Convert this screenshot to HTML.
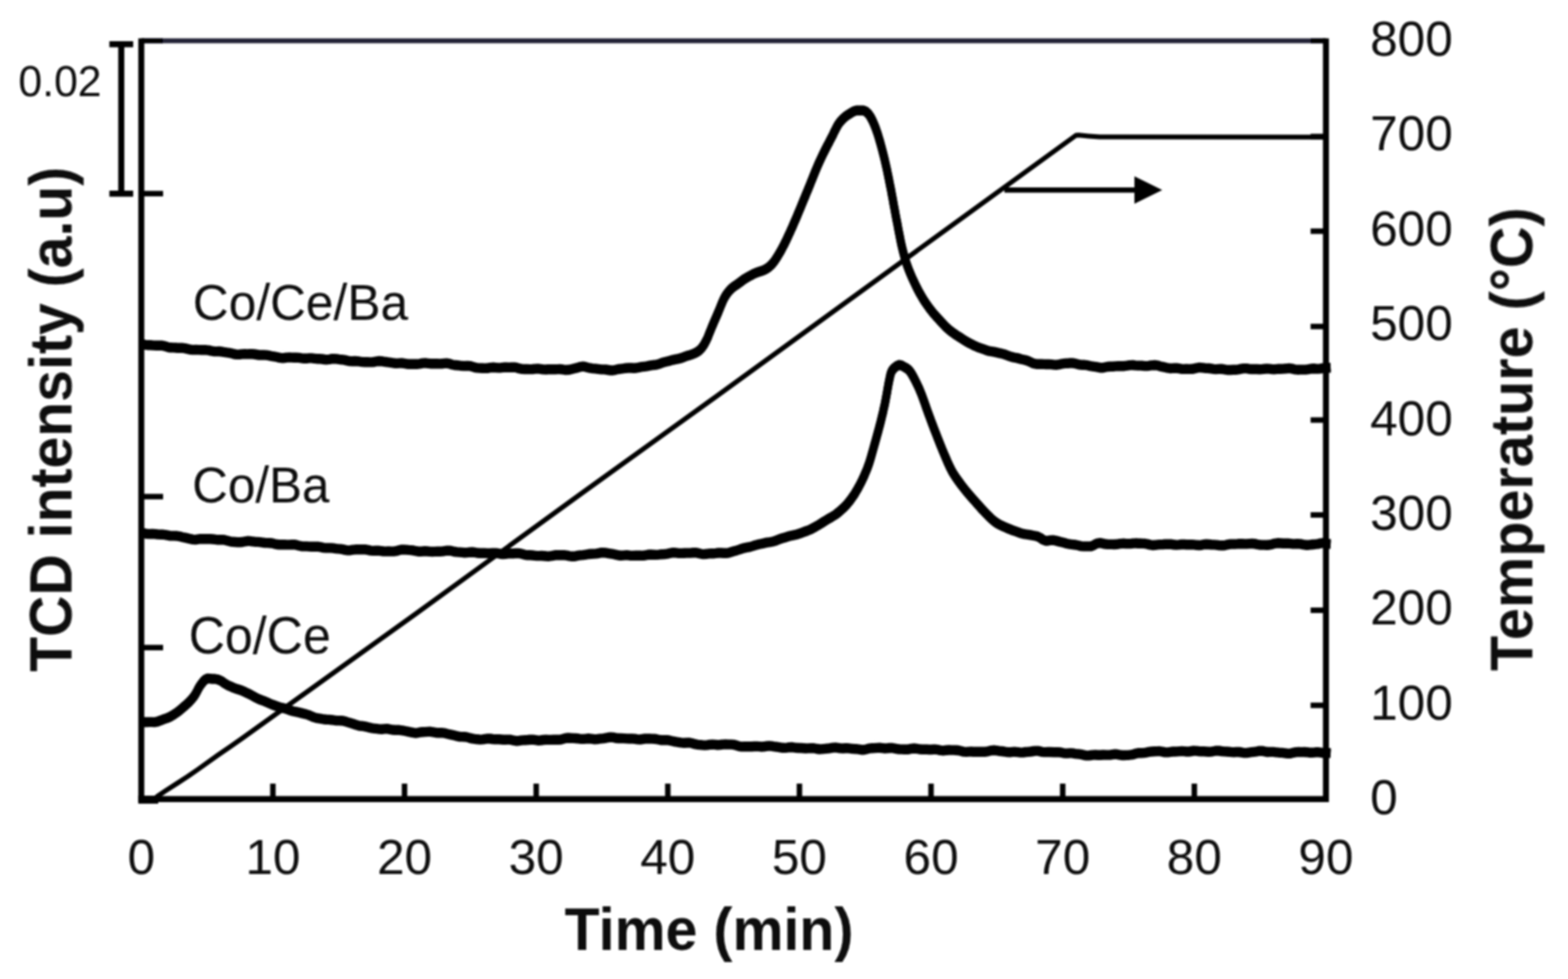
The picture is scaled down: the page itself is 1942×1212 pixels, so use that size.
<!DOCTYPE html>
<html lang="en"><head><meta charset="utf-8"><title>TPR profiles</title>
<style>
html,body{margin:0;padding:0;background:#fff;}
body{width:1942px;height:1212px;overflow:hidden;}
svg{display:block;}
text{font-family:"Liberation Sans",sans-serif;fill:#0a0a0a;}
.b{font-weight:bold;}
</style></head><body>
<svg width="1942" height="1212" viewBox="0 0 1942 1212">
<defs><filter id="bl" x="-5%" y="-5%" width="110%" height="110%"><feGaussianBlur stdDeviation="0.9"/></filter></defs>
<rect width="1942" height="1212" fill="#fff"/>
<g filter="url(#bl)">

<g fill="none" stroke="#000" stroke-linejoin="round" stroke-linecap="butt">
<path d="M191.5,989.0 L195.4,985.4 L205.0,979.0 L220.0,969.4 L232.5,961.3 L245.0,952.6 L270.0,934.8 L285.0,924.5 L300.0,914.0 L515.5,759.5 L720.0,611.0 L875.0,499.5 L1332.5,167.6 L1336.0,167.3 L1348.0,168.5 L1362.0,169.6 L1643.0,169.7" stroke-width="6"/>
<path d="M174.5,425.4 176.5,426.0 179.3,426.8 182.7,427.2 186.3,427.3 190.1,427.6 193.8,427.8 197.1,427.6 200.0,427.7 203.4,428.3 205.8,429.1 208.1,429.8 210.9,430.3 215.0,430.4 217.4,430.5 219.9,430.7 222.7,430.8 225.6,430.8 228.7,431.1 231.9,431.9 235.3,432.8 238.8,433.1 242.5,433.0 246.2,433.1 250.0,433.3 252.7,433.3 255.5,433.3 258.4,433.6 261.4,434.4 264.5,435.0 267.7,435.1 270.8,435.0 274.1,435.3 277.3,435.9 280.6,436.4 283.9,436.8 287.1,437.5 290.4,438.5 293.6,438.9 296.8,438.7 300.0,438.4 303.1,438.3 306.1,438.4 309.1,438.3 312.0,438.2 315.0,438.5 317.9,439.0 320.8,439.5 323.8,439.5 326.7,439.4 329.8,439.6 332.9,440.2 336.1,440.8 339.4,441.3 342.8,442.0 346.3,442.9 350.0,443.3 352.7,443.0 355.4,442.6 358.2,442.5 361.1,442.6 364.1,442.7 367.1,442.7 370.2,442.9 373.3,443.4 376.4,443.8 379.6,443.8 382.8,443.4 386.0,443.4 389.2,443.8 392.4,444.2 395.6,444.3 398.8,444.5 401.9,445.0 405.1,445.2 408.2,444.8 411.2,444.2 414.2,444.1 417.1,444.4 420.0,444.9 423.2,445.2 426.5,445.6 429.7,446.4 433.0,447.1 436.2,447.2 439.4,447.0 442.5,447.2 445.7,447.7 448.8,448.1 451.9,448.2 454.9,448.2 457.9,448.4 460.9,448.4 463.8,448.0 466.6,447.3 469.4,447.0 472.2,447.2 474.9,447.7 477.5,448.0 480.0,448.3 483.8,448.8 487.4,449.5 490.8,449.9 494.1,449.6 497.3,449.5 500.4,449.9 503.4,450.5 506.3,450.7 509.1,450.7 511.9,450.6 514.6,450.7 517.3,450.7 520.0,450.3 523.4,449.6 526.7,449.4 529.9,449.8 533.0,450.2 535.9,450.2 538.8,450.2 541.7,450.3 544.5,450.4 547.2,450.3 550.0,449.9 553.1,449.7 555.7,450.1 558.0,450.8 560.3,451.5 562.9,452.0 566.1,452.3 570.0,452.7 575.0,453.1 577.2,453.0 579.7,452.9 582.2,453.1 585.0,453.9 587.8,454.8 590.8,455.4 593.9,455.6 597.1,455.7 600.3,455.9 603.6,455.8 607.0,455.2 610.4,454.8 613.8,455.1 617.2,455.4 620.6,455.2 624.0,454.8 627.3,454.8 630.6,454.9 633.8,454.7 637.0,454.7 640.0,455.2 643.2,456.2 646.4,456.9 649.6,457.0 652.9,457.0 656.2,457.1 659.6,457.0 662.9,456.6 666.2,456.4 669.5,456.8 672.7,457.4 675.9,457.5 679.0,457.2 682.0,457.1 685.0,457.2 687.8,457.3 690.5,457.1 693.1,457.0 695.6,457.2 697.9,457.6 700.0,458.0 705.1,457.7 709.0,456.7 712.0,456.0 714.5,455.4 716.7,454.8 719.1,454.1 722.0,453.7 725.1,454.2 728.0,455.0 730.9,455.7 733.9,456.1 737.2,456.4 740.8,456.9 745.0,457.4 747.5,457.4 750.2,457.5 753.1,458.0 756.2,458.5 759.3,458.5 762.5,457.8 765.8,457.0 769.1,456.6 772.4,456.2 775.6,455.7 778.8,455.4 782.0,455.5 785.0,455.8 788.2,455.5 791.5,454.8 794.8,454.2 798.1,453.8 801.3,453.4 804.6,452.7 807.7,452.1 810.8,451.8 813.8,451.3 816.7,450.5 819.4,449.4 822.0,448.5 826.1,447.5 829.8,446.6 833.3,445.6 836.4,444.9 839.4,444.3 842.3,443.7 845.0,442.8 848.6,441.4 851.9,440.3 854.9,439.4 857.6,438.5 860.0,437.5 863.2,435.9 865.7,434.2 868.0,432.0 869.8,429.8 871.6,427.2 873.3,424.3 875.0,421.0 876.2,418.5 877.3,415.8 878.4,412.9 879.6,410.0 880.8,407.0 882.0,404.0 883.3,401.0 884.6,397.9 886.0,394.7 887.4,391.6 888.7,388.5 890.0,385.5 891.4,382.0 892.8,378.5 894.2,375.1 895.6,371.9 897.0,369.0 898.9,365.8 900.8,363.0 902.8,360.5 905.0,358.1 907.4,355.9 909.9,354.1 912.5,352.4 915.0,350.6 917.5,348.7 919.9,346.9 922.4,345.2 925.0,343.6 927.9,342.0 931.0,340.3 934.1,338.7 937.0,337.4 940.6,336.3 943.9,335.3 947.0,333.9 949.9,332.3 952.5,330.4 955.0,328.1 957.3,325.6 959.4,322.9 962.0,319.0 963.3,316.9 964.7,314.5 966.2,312.0 967.7,309.3 969.3,306.3 970.9,303.3 972.5,300.0 973.7,297.6 974.8,295.2 976.0,292.7 977.2,290.0 978.5,287.3 979.7,284.5 981.0,281.7 982.3,278.7 983.6,275.6 985.0,272.5 986.1,270.0 987.2,267.4 988.3,264.7 989.4,262.0 990.6,259.2 991.8,256.4 992.9,253.5 994.1,250.6 995.3,247.7 996.5,244.8 997.7,242.0 998.8,239.1 1000.0,236.3 1001.2,233.5 1002.3,230.7 1003.5,227.8 1004.6,224.9 1005.8,222.1 1006.9,219.2 1008.1,216.4 1009.2,213.5 1010.4,210.7 1011.5,208.0 1012.7,205.2 1013.8,202.6 1015.0,200.0 1016.4,197.0 1017.8,194.0 1019.2,191.0 1020.7,188.1 1022.1,185.3 1023.5,182.5 1024.9,179.8 1026.3,177.2 1027.6,174.6 1028.8,172.3 1030.0,170.0 1031.7,166.7 1033.1,163.6 1034.5,160.9 1035.8,158.3 1037.1,155.9 1038.5,153.6 1040.0,151.5 1042.4,148.7 1044.9,146.2 1047.5,144.0 1050.0,142.2 1052.5,140.7 1055.4,138.9 1058.2,137.5 1060.9,136.7 1063.7,136.7 1066.5,136.6 1069.4,136.7 1072.3,138.0 1075.0,140.4 1076.5,142.3 1078.0,144.5 1079.4,147.0 1080.8,149.8 1082.2,152.9 1083.6,156.3 1085.0,160.0 1085.8,162.4 1086.7,164.9 1087.6,167.7 1088.4,170.5 1089.3,173.5 1090.2,176.5 1091.0,179.6 1091.9,182.8 1092.7,185.9 1093.5,189.0 1094.3,192.0 1095.0,195.0 1095.8,198.2 1096.5,201.3 1097.2,204.4 1097.9,207.5 1098.6,210.6 1099.2,213.7 1099.9,216.9 1100.5,220.1 1101.2,223.3 1101.8,226.6 1102.5,230.0 1103.1,232.9 1103.7,235.9 1104.2,238.9 1104.8,242.0 1105.4,245.1 1106.0,248.3 1106.5,251.4 1107.1,254.6 1107.7,257.7 1108.3,260.8 1108.8,263.9 1109.4,267.0 1110.0,270.0 1110.6,273.3 1111.3,276.5 1111.9,279.8 1112.5,283.2 1113.1,286.4 1113.8,289.7 1114.4,292.9 1115.0,296.0 1115.6,299.1 1116.2,302.0 1116.9,304.8 1117.5,307.5 1118.4,311.2 1119.3,314.6 1120.1,317.7 1120.9,320.6 1121.8,323.5 1122.8,326.4 1123.8,329.3 1125.0,332.5 1126.0,335.2 1127.2,338.0 1128.4,340.8 1129.6,343.7 1130.9,346.5 1132.3,349.4 1133.6,352.2 1134.9,354.9 1136.2,357.5 1137.5,360.0 1139.3,363.3 1141.1,366.4 1142.9,369.4 1144.6,372.2 1146.4,374.9 1148.2,377.5 1150.0,380.0 1152.0,382.8 1154.0,385.3 1155.9,387.7 1158.0,390.0 1160.1,392.4 1162.5,395.0 1164.4,397.1 1166.3,399.2 1168.3,401.3 1170.3,403.5 1172.5,405.6 1174.8,407.7 1177.3,409.8 1180.0,411.8 1182.3,413.4 1184.8,415.1 1187.4,416.7 1190.2,418.5 1193.0,420.4 1195.8,422.2 1198.8,423.8 1201.7,425.4 1204.6,426.8 1207.5,428.3 1210.4,429.5 1213.3,430.6 1216.2,431.6 1219.2,432.7 1222.2,433.8 1225.2,434.7 1228.2,435.1 1231.3,435.6 1234.4,436.3 1237.5,437.1 1240.4,437.7 1243.5,438.5 1246.6,439.6 1249.8,440.8 1252.9,441.9 1256.1,442.6 1259.2,443.1 1262.2,443.9 1265.0,444.7 1267.6,445.3 1270.0,445.8 1273.6,447.0 1276.2,448.2 1278.4,449.3 1280.7,450.2 1283.6,450.7 1287.5,450.6 1289.9,450.7 1292.7,450.9 1295.6,451.0 1298.8,450.9 1302.1,451.1 1305.5,451.6 1308.9,451.7 1312.3,451.1 1315.7,450.3 1319.0,449.9 1322.1,449.8 1325.0,449.5 1328.1,449.5 1330.8,449.9 1333.3,450.5 1335.6,451.1 1338.0,451.5 1340.5,451.7 1343.3,451.8 1346.6,452.2 1350.4,453.1 1355.0,453.8 1357.3,454.1 1359.8,454.6 1362.5,455.2 1365.4,455.3 1368.5,454.7 1371.7,454.0 1375.0,453.7 1378.4,453.7 1381.8,453.4 1385.3,453.1 1388.9,453.2 1392.4,453.2 1395.9,452.7 1399.4,452.1 1402.8,452.0 1406.1,452.4 1409.3,452.6 1412.4,452.6 1415.3,452.8 1418.0,453.1 1420.6,453.1 1422.9,452.8 1425.0,452.4 1431.0,452.0 1434.6,452.7 1436.9,453.4 1438.7,453.9 1441.1,454.4 1445.0,455.3 1447.3,455.7 1449.7,456.0 1452.1,455.9 1454.7,455.7 1457.3,455.7 1460.1,456.2 1463.0,456.7 1466.2,456.9 1469.5,456.8 1473.0,456.9 1476.7,456.8 1480.7,455.9 1485.0,455.0 1487.3,455.1 1489.8,455.4 1492.3,455.7 1494.9,455.9 1497.6,456.0 1500.3,456.4 1503.1,456.8 1506.0,457.1 1508.9,456.9 1511.9,456.7 1514.9,457.0 1517.9,457.6 1521.1,458.0 1524.2,458.0 1527.4,457.8 1530.6,457.7 1533.8,457.4 1537.1,456.7 1540.3,456.1 1543.6,456.1 1546.9,456.7 1550.2,457.0 1553.5,456.9 1556.7,457.0 1560.0,457.2 1562.9,457.1 1565.9,456.7 1569.0,456.4 1572.2,456.6 1575.5,457.1 1578.9,457.2 1582.3,456.8 1585.8,456.7 1589.3,456.6 1592.8,456.3 1596.4,455.9 1599.9,456.4 1603.4,457.3 1606.9,457.7 1610.4,457.6 1613.8,457.6 1617.2,457.6 1620.5,457.2 1623.7,456.5 1626.8,456.3 1629.7,456.5 1632.6,456.6 1635.3,456.4 1637.9,455.9 1640.3,455.6 1642.5,455.4 1644.5,455.4 1646.4,455.3 1648.0,455.2" stroke-width="10.0"/>
<path d="M174.5,425.4 176.5,426.0 179.3,426.8 182.7,427.2 186.3,427.3 190.1,427.6 193.8,427.8 197.1,427.6 200.0,427.7 203.4,428.3 205.8,429.1 208.1,429.8 210.9,430.3 215.0,430.4 217.4,430.5 219.9,430.7 222.7,430.8 225.6,430.8 228.7,431.1 231.9,431.9 235.3,432.8 238.8,433.1 242.5,433.0 246.2,433.1 250.0,433.3 252.7,433.3 255.5,433.3 258.4,433.6 261.4,434.4 264.5,435.0 267.7,435.1 270.8,435.0 274.1,435.3 277.3,435.9 280.6,436.4 283.9,436.8 287.1,437.5 290.4,438.5 293.6,438.9 296.8,438.7 300.0,438.4 303.1,438.3 306.1,438.4 309.1,438.3 312.0,438.2 315.0,438.5 317.9,439.0 320.8,439.5 323.8,439.5 326.7,439.4 329.8,439.6 332.9,440.2 336.1,440.8 339.4,441.3 342.8,442.0 346.3,442.9 350.0,443.3 352.7,443.0 355.4,442.6 358.2,442.5 361.1,442.6 364.1,442.7 367.1,442.7 370.2,442.9 373.3,443.4 376.4,443.8 379.6,443.8 382.8,443.4 386.0,443.4 389.2,443.8 392.4,444.2 395.6,444.3 398.8,444.5 401.9,445.0 405.1,445.2 408.2,444.8 411.2,444.2 414.2,444.1 417.1,444.4 420.0,444.9 423.2,445.2 426.5,445.6 429.7,446.4 433.0,447.1 436.2,447.2 439.4,447.0 442.5,447.2 445.7,447.7 448.8,448.1 451.9,448.2 454.9,448.2 457.9,448.4 460.9,448.4 463.8,448.0 466.6,447.3 469.4,447.0 472.2,447.2 474.9,447.7 477.5,448.0 480.0,448.3 483.8,448.8 487.4,449.5 490.8,449.9 494.1,449.6 497.3,449.5 500.4,449.9 503.4,450.5 506.3,450.7 509.1,450.7 511.9,450.6 514.6,450.7 517.3,450.7 520.0,450.3 523.4,449.6 526.7,449.4 529.9,449.8 533.0,450.2 535.9,450.2 538.8,450.2 541.7,450.3 544.5,450.4 547.2,450.3 550.0,449.9 553.1,449.7 555.7,450.1 558.0,450.8 560.3,451.5 562.9,452.0 566.1,452.3 570.0,452.7 575.0,453.1 577.2,453.0 579.7,452.9 582.2,453.1 585.0,453.9 587.8,454.8 590.8,455.4 593.9,455.6 597.1,455.7 600.3,455.9 603.6,455.8 607.0,455.2 610.4,454.8 613.8,455.1 617.2,455.4 620.6,455.2 624.0,454.8 627.3,454.8 630.6,454.9 633.8,454.7 637.0,454.7 640.0,455.2 643.2,456.2 646.4,456.9 649.6,457.0 652.9,457.0 656.2,457.1 659.6,457.0 662.9,456.6 666.2,456.4 669.5,456.8 672.7,457.4 675.9,457.5 679.0,457.2 682.0,457.1 685.0,457.2 687.8,457.3 690.5,457.1 693.1,457.0 695.6,457.2 697.9,457.6 700.0,458.0 705.1,457.7 709.0,456.7 712.0,456.0 714.5,455.4 716.7,454.8 719.1,454.1 722.0,453.7 725.1,454.2 728.0,455.0 730.9,455.7 733.9,456.1 737.2,456.4 740.8,456.9 745.0,457.4 747.5,457.4 750.2,457.5 753.1,458.0 756.2,458.5 759.3,458.5 762.5,457.8 765.8,457.0 769.1,456.6 772.4,456.2 775.6,455.7 778.8,455.4 782.0,455.5 785.0,455.8 788.2,455.5 791.5,454.8 794.8,454.2 798.1,453.8 801.3,453.4 804.6,452.7 807.7,452.1 810.8,451.8 813.8,451.3 816.7,450.5 819.4,449.4 822.0,448.5 826.1,447.5 829.8,446.6 833.3,445.6 836.4,444.9 839.4,444.3 842.3,443.7 845.0,442.8 848.6,441.4 851.9,440.3 854.9,439.4 857.6,438.5 860.0,437.5 863.2,435.9 865.7,434.2 868.0,432.0 869.8,429.8 871.6,427.2 873.3,424.3 875.0,421.0 876.2,418.5 877.3,415.8 878.4,412.9 879.6,410.0 880.8,407.0 882.0,404.0 883.3,401.0 884.6,397.9 886.0,394.7 887.4,391.6 888.7,388.5 890.0,385.5 891.4,382.0 892.8,378.5 894.2,375.1 895.6,371.9 897.0,369.0 898.9,365.8 900.8,363.0 902.8,360.5 905.0,358.1 907.4,355.9 909.9,354.1 912.5,352.4 915.0,350.6 917.5,348.7 919.9,346.9 922.4,345.2 925.0,343.6 927.9,342.0 931.0,340.3 934.1,338.7 937.0,337.4 940.6,336.3 943.9,335.3 947.0,333.9 949.9,332.3 952.5,330.4 955.0,328.1 957.3,325.6 959.4,322.9 962.0,319.0 963.3,316.9 964.7,314.5 966.2,312.0 967.7,309.3 969.3,306.3 970.9,303.3 972.5,300.0 973.7,297.6 974.8,295.2 976.0,292.7 977.2,290.0 978.5,287.3 979.7,284.5 981.0,281.7 982.3,278.7 983.6,275.6 985.0,272.5 986.1,270.0 987.2,267.4 988.3,264.7 989.4,262.0 990.6,259.2 991.8,256.4 992.9,253.5 994.1,250.6 995.3,247.7 996.5,244.8 997.7,242.0 998.8,239.1 1000.0,236.3 1001.2,233.5 1002.3,230.7 1003.5,227.8 1004.6,224.9 1005.8,222.1 1006.9,219.2 1008.1,216.4 1009.2,213.5 1010.4,210.7 1011.5,208.0 1012.7,205.2 1013.8,202.6 1015.0,200.0 1016.4,197.0 1017.8,194.0 1019.2,191.0 1020.7,188.1 1022.1,185.3 1023.5,182.5 1024.9,179.8 1026.3,177.2 1027.6,174.6 1028.8,172.3 1030.0,170.0 1031.7,166.7 1033.1,163.6 1034.5,160.9 1035.8,158.3 1037.1,155.9 1038.5,153.6 1040.0,151.5 1042.4,148.7 1044.9,146.2 1047.5,144.0 1050.0,142.2 1052.5,140.7 1055.4,138.9 1058.2,137.5 1060.9,136.7 1063.7,136.7 1066.5,136.6 1069.4,136.7 1072.3,138.0 1075.0,140.4 1076.5,142.3 1078.0,144.5 1079.4,147.0 1080.8,149.8 1082.2,152.9 1083.6,156.3 1085.0,160.0 1085.8,162.4 1086.7,164.9 1087.6,167.7 1088.4,170.5 1089.3,173.5 1090.2,176.5 1091.0,179.6 1091.9,182.8 1092.7,185.9 1093.5,189.0 1094.3,192.0 1095.0,195.0 1095.8,198.2 1096.5,201.3 1097.2,204.4 1097.9,207.5 1098.6,210.6 1099.2,213.7 1099.9,216.9 1100.5,220.1 1101.2,223.3 1101.8,226.6 1102.5,230.0 1103.1,232.9 1103.7,235.9 1104.2,238.9 1104.8,242.0 1105.4,245.1 1106.0,248.3 1106.5,251.4 1107.1,254.6 1107.7,257.7 1108.3,260.8 1108.8,263.9 1109.4,267.0 1110.0,270.0 1110.6,273.3 1111.3,276.5 1111.9,279.8 1112.5,283.2 1113.1,286.4 1113.8,289.7 1114.4,292.9 1115.0,296.0 1115.6,299.1 1116.2,302.0 1116.9,304.8 1117.5,307.5 1118.4,311.2 1119.3,314.6 1120.1,317.7 1120.9,320.6 1121.8,323.5 1122.8,326.4 1123.8,329.3 1125.0,332.5 1126.0,335.2 1127.2,338.0 1128.4,340.8 1129.6,343.7 1130.9,346.5 1132.3,349.4 1133.6,352.2 1134.9,354.9 1136.2,357.5 1137.5,360.0 1139.3,363.3 1141.1,366.4 1142.9,369.4 1144.6,372.2 1146.4,374.9 1148.2,377.5 1150.0,380.0 1152.0,382.8 1154.0,385.3 1155.9,387.7 1158.0,390.0 1160.1,392.4 1162.5,395.0 1164.4,397.1 1166.3,399.2 1168.3,401.3 1170.3,403.5 1172.5,405.6 1174.8,407.7 1177.3,409.8 1180.0,411.8 1182.3,413.4 1184.8,415.1 1187.4,416.7 1190.2,418.5 1193.0,420.4 1195.8,422.2 1198.8,423.8 1201.7,425.4 1204.6,426.8 1207.5,428.3 1210.4,429.5 1213.3,430.6 1216.2,431.6 1219.2,432.7 1222.2,433.8 1225.2,434.7 1228.2,435.1 1231.3,435.6 1234.4,436.3 1237.5,437.1 1240.4,437.7 1243.5,438.5 1246.6,439.6 1249.8,440.8 1252.9,441.9 1256.1,442.6 1259.2,443.1 1262.2,443.9 1265.0,444.7 1267.6,445.3 1270.0,445.8 1273.6,447.0 1276.2,448.2 1278.4,449.3 1280.7,450.2 1283.6,450.7 1287.5,450.6 1289.9,450.7 1292.7,450.9 1295.6,451.0 1298.8,450.9 1302.1,451.1 1305.5,451.6 1308.9,451.7 1312.3,451.1 1315.7,450.3 1319.0,449.9 1322.1,449.8 1325.0,449.5 1328.1,449.5 1330.8,449.9 1333.3,450.5 1335.6,451.1 1338.0,451.5 1340.5,451.7 1343.3,451.8 1346.6,452.2 1350.4,453.1 1355.0,453.8 1357.3,454.1 1359.8,454.6 1362.5,455.2 1365.4,455.3 1368.5,454.7 1371.7,454.0 1375.0,453.7 1378.4,453.7 1381.8,453.4 1385.3,453.1 1388.9,453.2 1392.4,453.2 1395.9,452.7 1399.4,452.1 1402.8,452.0 1406.1,452.4 1409.3,452.6 1412.4,452.6 1415.3,452.8 1418.0,453.1 1420.6,453.1 1422.9,452.8 1425.0,452.4 1431.0,452.0 1434.6,452.7 1436.9,453.4 1438.7,453.9 1441.1,454.4 1445.0,455.3 1447.3,455.7 1449.7,456.0 1452.1,455.9 1454.7,455.7 1457.3,455.7 1460.1,456.2 1463.0,456.7 1466.2,456.9 1469.5,456.8 1473.0,456.9 1476.7,456.8 1480.7,455.9 1485.0,455.0 1487.3,455.1 1489.8,455.4 1492.3,455.7 1494.9,455.9 1497.6,456.0 1500.3,456.4 1503.1,456.8 1506.0,457.1 1508.9,456.9 1511.9,456.7 1514.9,457.0 1517.9,457.6 1521.1,458.0 1524.2,458.0 1527.4,457.8 1530.6,457.7 1533.8,457.4 1537.1,456.7 1540.3,456.1 1543.6,456.1 1546.9,456.7 1550.2,457.0 1553.5,456.9 1556.7,457.0 1560.0,457.2 1562.9,457.1 1565.9,456.7 1569.0,456.4 1572.2,456.6 1575.5,457.1 1578.9,457.2 1582.3,456.8 1585.8,456.7 1589.3,456.6 1592.8,456.3 1596.4,455.9 1599.9,456.4 1603.4,457.3 1606.9,457.7 1610.4,457.6 1613.8,457.6 1617.2,457.6 1620.5,457.2 1623.7,456.5 1626.8,456.3 1629.7,456.5 1632.6,456.6 1635.3,456.4 1637.9,455.9 1640.3,455.6 1642.5,455.4 1644.5,455.4 1646.4,455.3 1648.0,455.2" stroke-width="10" transform="translate(0,-1.2)"/>
<path d="M174.5,425.4 176.5,426.0 179.3,426.8 182.7,427.2 186.3,427.3 190.1,427.6 193.8,427.8 197.1,427.6 200.0,427.7 203.4,428.3 205.8,429.1 208.1,429.8 210.9,430.3 215.0,430.4 217.4,430.5 219.9,430.7 222.7,430.8 225.6,430.8 228.7,431.1 231.9,431.9 235.3,432.8 238.8,433.1 242.5,433.0 246.2,433.1 250.0,433.3 252.7,433.3 255.5,433.3 258.4,433.6 261.4,434.4 264.5,435.0 267.7,435.1 270.8,435.0 274.1,435.3 277.3,435.9 280.6,436.4 283.9,436.8 287.1,437.5 290.4,438.5 293.6,438.9 296.8,438.7 300.0,438.4 303.1,438.3 306.1,438.4 309.1,438.3 312.0,438.2 315.0,438.5 317.9,439.0 320.8,439.5 323.8,439.5 326.7,439.4 329.8,439.6 332.9,440.2 336.1,440.8 339.4,441.3 342.8,442.0 346.3,442.9 350.0,443.3 352.7,443.0 355.4,442.6 358.2,442.5 361.1,442.6 364.1,442.7 367.1,442.7 370.2,442.9 373.3,443.4 376.4,443.8 379.6,443.8 382.8,443.4 386.0,443.4 389.2,443.8 392.4,444.2 395.6,444.3 398.8,444.5 401.9,445.0 405.1,445.2 408.2,444.8 411.2,444.2 414.2,444.1 417.1,444.4 420.0,444.9 423.2,445.2 426.5,445.6 429.7,446.4 433.0,447.1 436.2,447.2 439.4,447.0 442.5,447.2 445.7,447.7 448.8,448.1 451.9,448.2 454.9,448.2 457.9,448.4 460.9,448.4 463.8,448.0 466.6,447.3 469.4,447.0 472.2,447.2 474.9,447.7 477.5,448.0 480.0,448.3 483.8,448.8 487.4,449.5 490.8,449.9 494.1,449.6 497.3,449.5 500.4,449.9 503.4,450.5 506.3,450.7 509.1,450.7 511.9,450.6 514.6,450.7 517.3,450.7 520.0,450.3 523.4,449.6 526.7,449.4 529.9,449.8 533.0,450.2 535.9,450.2 538.8,450.2 541.7,450.3 544.5,450.4 547.2,450.3 550.0,449.9 553.1,449.7 555.7,450.1 558.0,450.8 560.3,451.5 562.9,452.0 566.1,452.3 570.0,452.7 575.0,453.1 577.2,453.0 579.7,452.9 582.2,453.1 585.0,453.9 587.8,454.8 590.8,455.4 593.9,455.6 597.1,455.7 600.3,455.9 603.6,455.8 607.0,455.2 610.4,454.8 613.8,455.1 617.2,455.4 620.6,455.2 624.0,454.8 627.3,454.8 630.6,454.9 633.8,454.7 637.0,454.7 640.0,455.2 643.2,456.2 646.4,456.9 649.6,457.0 652.9,457.0 656.2,457.1 659.6,457.0 662.9,456.6 666.2,456.4 669.5,456.8 672.7,457.4 675.9,457.5 679.0,457.2 682.0,457.1 685.0,457.2 687.8,457.3 690.5,457.1 693.1,457.0 695.6,457.2 697.9,457.6 700.0,458.0 705.1,457.7 709.0,456.7 712.0,456.0 714.5,455.4 716.7,454.8 719.1,454.1 722.0,453.7 725.1,454.2 728.0,455.0 730.9,455.7 733.9,456.1 737.2,456.4 740.8,456.9 745.0,457.4 747.5,457.4 750.2,457.5 753.1,458.0 756.2,458.5 759.3,458.5 762.5,457.8 765.8,457.0 769.1,456.6 772.4,456.2 775.6,455.7 778.8,455.4 782.0,455.5 785.0,455.8 788.2,455.5 791.5,454.8 794.8,454.2 798.1,453.8 801.3,453.4 804.6,452.7 807.7,452.1 810.8,451.8 813.8,451.3 816.7,450.5 819.4,449.4 822.0,448.5 826.1,447.5 829.8,446.6 833.3,445.6 836.4,444.9 839.4,444.3 842.3,443.7 845.0,442.8 848.6,441.4 851.9,440.3 854.9,439.4 857.6,438.5 860.0,437.5 863.2,435.9 865.7,434.2 868.0,432.0 869.8,429.8 871.6,427.2 873.3,424.3 875.0,421.0 876.2,418.5 877.3,415.8 878.4,412.9 879.6,410.0 880.8,407.0 882.0,404.0 883.3,401.0 884.6,397.9 886.0,394.7 887.4,391.6 888.7,388.5 890.0,385.5 891.4,382.0 892.8,378.5 894.2,375.1 895.6,371.9 897.0,369.0 898.9,365.8 900.8,363.0 902.8,360.5 905.0,358.1 907.4,355.9 909.9,354.1 912.5,352.4 915.0,350.6 917.5,348.7 919.9,346.9 922.4,345.2 925.0,343.6 927.9,342.0 931.0,340.3 934.1,338.7 937.0,337.4 940.6,336.3 943.9,335.3 947.0,333.9 949.9,332.3 952.5,330.4 955.0,328.1 957.3,325.6 959.4,322.9 962.0,319.0 963.3,316.9 964.7,314.5 966.2,312.0 967.7,309.3 969.3,306.3 970.9,303.3 972.5,300.0 973.7,297.6 974.8,295.2 976.0,292.7 977.2,290.0 978.5,287.3 979.7,284.5 981.0,281.7 982.3,278.7 983.6,275.6 985.0,272.5 986.1,270.0 987.2,267.4 988.3,264.7 989.4,262.0 990.6,259.2 991.8,256.4 992.9,253.5 994.1,250.6 995.3,247.7 996.5,244.8 997.7,242.0 998.8,239.1 1000.0,236.3 1001.2,233.5 1002.3,230.7 1003.5,227.8 1004.6,224.9 1005.8,222.1 1006.9,219.2 1008.1,216.4 1009.2,213.5 1010.4,210.7 1011.5,208.0 1012.7,205.2 1013.8,202.6 1015.0,200.0 1016.4,197.0 1017.8,194.0 1019.2,191.0 1020.7,188.1 1022.1,185.3 1023.5,182.5 1024.9,179.8 1026.3,177.2 1027.6,174.6 1028.8,172.3 1030.0,170.0 1031.7,166.7 1033.1,163.6 1034.5,160.9 1035.8,158.3 1037.1,155.9 1038.5,153.6 1040.0,151.5 1042.4,148.7 1044.9,146.2 1047.5,144.0 1050.0,142.2 1052.5,140.7 1055.4,138.9 1058.2,137.5 1060.9,136.7 1063.7,136.7 1066.5,136.6 1069.4,136.7 1072.3,138.0 1075.0,140.4 1076.5,142.3 1078.0,144.5 1079.4,147.0 1080.8,149.8 1082.2,152.9 1083.6,156.3 1085.0,160.0 1085.8,162.4 1086.7,164.9 1087.6,167.7 1088.4,170.5 1089.3,173.5 1090.2,176.5 1091.0,179.6 1091.9,182.8 1092.7,185.9 1093.5,189.0 1094.3,192.0 1095.0,195.0 1095.8,198.2 1096.5,201.3 1097.2,204.4 1097.9,207.5 1098.6,210.6 1099.2,213.7 1099.9,216.9 1100.5,220.1 1101.2,223.3 1101.8,226.6 1102.5,230.0 1103.1,232.9 1103.7,235.9 1104.2,238.9 1104.8,242.0 1105.4,245.1 1106.0,248.3 1106.5,251.4 1107.1,254.6 1107.7,257.7 1108.3,260.8 1108.8,263.9 1109.4,267.0 1110.0,270.0 1110.6,273.3 1111.3,276.5 1111.9,279.8 1112.5,283.2 1113.1,286.4 1113.8,289.7 1114.4,292.9 1115.0,296.0 1115.6,299.1 1116.2,302.0 1116.9,304.8 1117.5,307.5 1118.4,311.2 1119.3,314.6 1120.1,317.7 1120.9,320.6 1121.8,323.5 1122.8,326.4 1123.8,329.3 1125.0,332.5 1126.0,335.2 1127.2,338.0 1128.4,340.8 1129.6,343.7 1130.9,346.5 1132.3,349.4 1133.6,352.2 1134.9,354.9 1136.2,357.5 1137.5,360.0 1139.3,363.3 1141.1,366.4 1142.9,369.4 1144.6,372.2 1146.4,374.9 1148.2,377.5 1150.0,380.0 1152.0,382.8 1154.0,385.3 1155.9,387.7 1158.0,390.0 1160.1,392.4 1162.5,395.0 1164.4,397.1 1166.3,399.2 1168.3,401.3 1170.3,403.5 1172.5,405.6 1174.8,407.7 1177.3,409.8 1180.0,411.8 1182.3,413.4 1184.8,415.1 1187.4,416.7 1190.2,418.5 1193.0,420.4 1195.8,422.2 1198.8,423.8 1201.7,425.4 1204.6,426.8 1207.5,428.3 1210.4,429.5 1213.3,430.6 1216.2,431.6 1219.2,432.7 1222.2,433.8 1225.2,434.7 1228.2,435.1 1231.3,435.6 1234.4,436.3 1237.5,437.1 1240.4,437.7 1243.5,438.5 1246.6,439.6 1249.8,440.8 1252.9,441.9 1256.1,442.6 1259.2,443.1 1262.2,443.9 1265.0,444.7 1267.6,445.3 1270.0,445.8 1273.6,447.0 1276.2,448.2 1278.4,449.3 1280.7,450.2 1283.6,450.7 1287.5,450.6 1289.9,450.7 1292.7,450.9 1295.6,451.0 1298.8,450.9 1302.1,451.1 1305.5,451.6 1308.9,451.7 1312.3,451.1 1315.7,450.3 1319.0,449.9 1322.1,449.8 1325.0,449.5 1328.1,449.5 1330.8,449.9 1333.3,450.5 1335.6,451.1 1338.0,451.5 1340.5,451.7 1343.3,451.8 1346.6,452.2 1350.4,453.1 1355.0,453.8 1357.3,454.1 1359.8,454.6 1362.5,455.2 1365.4,455.3 1368.5,454.7 1371.7,454.0 1375.0,453.7 1378.4,453.7 1381.8,453.4 1385.3,453.1 1388.9,453.2 1392.4,453.2 1395.9,452.7 1399.4,452.1 1402.8,452.0 1406.1,452.4 1409.3,452.6 1412.4,452.6 1415.3,452.8 1418.0,453.1 1420.6,453.1 1422.9,452.8 1425.0,452.4 1431.0,452.0 1434.6,452.7 1436.9,453.4 1438.7,453.9 1441.1,454.4 1445.0,455.3 1447.3,455.7 1449.7,456.0 1452.1,455.9 1454.7,455.7 1457.3,455.7 1460.1,456.2 1463.0,456.7 1466.2,456.9 1469.5,456.8 1473.0,456.9 1476.7,456.8 1480.7,455.9 1485.0,455.0 1487.3,455.1 1489.8,455.4 1492.3,455.7 1494.9,455.9 1497.6,456.0 1500.3,456.4 1503.1,456.8 1506.0,457.1 1508.9,456.9 1511.9,456.7 1514.9,457.0 1517.9,457.6 1521.1,458.0 1524.2,458.0 1527.4,457.8 1530.6,457.7 1533.8,457.4 1537.1,456.7 1540.3,456.1 1543.6,456.1 1546.9,456.7 1550.2,457.0 1553.5,456.9 1556.7,457.0 1560.0,457.2 1562.9,457.1 1565.9,456.7 1569.0,456.4 1572.2,456.6 1575.5,457.1 1578.9,457.2 1582.3,456.8 1585.8,456.7 1589.3,456.6 1592.8,456.3 1596.4,455.9 1599.9,456.4 1603.4,457.3 1606.9,457.7 1610.4,457.6 1613.8,457.6 1617.2,457.6 1620.5,457.2 1623.7,456.5 1626.8,456.3 1629.7,456.5 1632.6,456.6 1635.3,456.4 1637.9,455.9 1640.3,455.6 1642.5,455.4 1644.5,455.4 1646.4,455.3 1648.0,455.2" stroke-width="10" transform="translate(0,1.2)"/>
<path d="M174.5,659.2 177.1,659.8 180.8,660.8 185.0,661.1 187.3,661.0 189.4,660.9 191.8,661.1 195.2,661.5 200.0,661.7 202.2,661.8 204.6,662.1 207.2,662.6 210.0,663.2 213.0,663.4 216.1,663.4 219.2,663.5 222.5,664.1 225.8,665.0 229.1,665.7 232.4,666.4 235.7,667.2 238.9,667.9 242.0,668.1 245.0,667.6 248.1,667.2 251.2,667.1 254.3,667.3 257.4,667.3 260.5,667.3 263.6,667.5 266.7,667.9 269.8,668.3 272.9,668.3 276.0,668.2 279.0,668.7 282.0,669.5 285.0,670.3 288.2,670.8 291.3,671.0 294.3,671.2 297.4,671.3 300.4,671.0 303.4,670.3 306.4,669.8 309.4,669.9 312.4,670.3 315.5,670.7 318.6,670.9 321.8,671.1 325.0,671.6 327.9,672.0 330.8,672.1 333.8,672.2 336.9,672.5 339.9,673.3 343.0,674.0 346.1,674.3 349.2,674.3 352.3,674.3 355.4,674.4 358.4,674.4 361.4,674.2 364.4,674.2 367.2,674.7 370.0,675.5 373.3,676.2 376.6,676.4 379.7,676.4 382.7,676.6 385.7,676.8 388.6,676.8 391.6,676.7 394.5,676.8 397.5,677.4 400.6,678.1 403.7,678.4 407.0,678.4 409.9,678.4 412.8,678.7 415.7,679.1 418.6,679.4 421.6,679.6 424.6,680.1 427.7,680.9 430.8,681.4 433.9,681.2 437.0,680.7 440.2,680.3 443.4,680.3 446.7,680.2 450.0,680.1 452.9,680.3 455.9,680.9 459.0,681.6 462.1,681.9 465.3,681.8 468.5,681.7 471.7,682.1 474.9,682.5 478.1,682.6 481.3,682.5 484.5,682.6 487.7,682.6 490.8,682.2 493.9,681.3 497.0,680.5 500.0,680.4 503.1,680.6 506.2,680.9 509.2,681.1 512.1,681.5 515.0,682.2 517.9,682.7 520.8,682.8 523.6,682.5 526.5,682.3 529.4,682.5 532.4,682.9 535.4,683.0 538.5,682.9 541.7,682.7 545.0,682.7 547.8,682.6 550.7,682.1 553.6,681.7 556.6,681.7 559.7,682.2 562.8,683.0 565.9,683.4 569.0,683.6 572.2,683.9 575.3,684.2 578.5,684.1 581.7,683.7 584.8,683.5 587.9,683.9 591.0,684.5 594.1,684.8 597.1,684.7 600.0,684.7 603.3,684.9 606.6,685.0 609.9,684.8 613.1,684.6 616.4,685.0 619.7,685.7 622.9,686.0 626.1,685.7 629.3,685.4 632.4,685.3 635.5,685.2 638.5,685.0 641.5,684.9 644.4,685.2 647.2,686.0 650.0,686.8 653.5,687.3 656.7,687.3 659.7,687.5 662.5,687.8 665.2,688.1 668.0,688.1 670.7,688.0 673.6,688.2 676.7,688.5 679.9,688.7 683.5,688.2 687.5,687.3 690.1,687.2 692.9,687.2 695.8,687.3 698.8,687.3 702.0,687.6 705.2,688.3 708.5,688.8 711.9,688.7 715.3,687.9 718.8,687.4 722.2,687.1 725.6,686.6 729.0,686.0 732.3,685.7 735.5,685.6 738.7,685.4 741.7,684.8 744.7,684.2 747.4,684.1 750.0,684.4 753.9,685.1 757.4,685.7 760.5,686.2 763.4,686.9 766.1,687.5 768.8,687.7 771.4,687.6 774.1,687.4 777.0,687.3 780.1,687.7 783.6,687.9 787.5,687.8 790.1,687.7 792.9,687.8 795.9,687.9 799.0,687.5 802.2,686.8 805.6,686.5 809.0,686.7 812.5,686.9 816.0,686.6 819.5,686.2 823.0,686.0 826.5,685.6 829.9,684.8 833.2,684.2 836.4,684.3 839.5,684.7 842.4,684.9 845.2,684.9 847.7,684.7 850.0,684.6 854.8,684.6 858.6,684.3 861.6,684.2 864.1,684.6 866.4,685.2 868.8,685.8 871.5,686.1 875.0,685.8 877.7,685.4 880.5,685.2 883.5,685.2 886.6,684.9 889.7,684.5 893.0,684.5 896.2,684.8 899.5,684.8 902.8,684.3 906.1,683.3 909.3,682.3 912.5,681.4 915.7,680.4 918.9,679.3 922.2,678.3 925.5,677.7 928.8,677.1 932.0,676.1 935.3,675.0 938.4,674.2 941.5,673.5 944.5,672.9 947.3,672.2 950.0,671.6 953.7,671.1 957.1,670.5 960.3,669.6 963.3,668.3 966.2,667.2 969.0,666.3 972.0,665.4 975.0,664.5 978.2,663.5 981.4,662.8 984.6,662.2 987.8,661.4 991.0,660.3 994.1,659.1 997.1,658.0 1000.0,657.0 1003.1,655.7 1006.2,654.2 1009.1,652.6 1011.9,651.0 1014.6,649.4 1017.3,647.7 1020.0,646.0 1023.1,644.1 1026.1,642.3 1029.1,640.6 1031.9,638.9 1034.8,637.1 1037.5,635.0 1039.8,633.2 1042.0,631.2 1044.2,629.2 1046.4,627.0 1048.5,624.8 1050.5,622.4 1052.5,620.0 1054.4,617.4 1056.3,614.7 1058.2,611.9 1059.9,609.0 1061.7,606.0 1063.4,603.0 1065.0,600.0 1066.4,597.3 1067.7,594.6 1069.0,591.9 1070.3,589.1 1071.5,586.2 1072.7,583.4 1073.9,580.5 1075.0,577.5 1076.1,574.5 1077.1,571.5 1078.0,568.4 1078.9,565.3 1079.8,562.2 1080.7,559.0 1081.6,555.8 1082.5,552.5 1083.3,549.6 1084.2,546.5 1085.0,543.5 1085.9,540.4 1086.7,537.3 1087.6,534.2 1088.4,531.1 1089.2,528.1 1090.0,525.0 1090.8,522.0 1091.5,519.0 1092.2,516.0 1093.0,513.0 1093.7,510.0 1094.3,507.0 1095.0,504.0 1095.7,501.0 1096.3,498.0 1096.9,494.9 1097.5,491.7 1098.1,488.5 1098.7,485.2 1099.2,482.0 1099.8,478.9 1100.3,476.0 1100.8,473.4 1101.3,471.0 1102.2,466.7 1102.9,463.4 1103.8,460.8 1105.0,458.5 1107.4,455.6 1110.4,453.3 1113.7,451.8 1116.4,452.4 1119.4,454.0 1122.3,455.6 1125.0,457.5 1127.2,460.0 1129.2,463.0 1131.1,466.4 1133.0,470.0 1134.3,472.6 1135.6,475.2 1136.9,478.0 1138.3,480.9 1139.6,484.1 1141.0,487.5 1142.1,490.3 1143.2,493.3 1144.3,496.4 1145.5,499.7 1146.6,503.0 1147.8,506.3 1148.9,509.5 1150.0,512.5 1151.1,515.4 1152.1,518.2 1153.1,520.9 1154.1,523.6 1155.2,526.3 1156.2,529.1 1157.3,532.0 1158.5,535.0 1159.6,537.8 1160.8,540.9 1162.0,544.0 1163.2,547.1 1164.5,550.3 1165.8,553.5 1167.0,556.6 1168.3,559.6 1169.5,562.5 1170.8,565.5 1172.1,568.5 1173.3,571.4 1174.5,574.1 1175.8,576.9 1177.1,579.6 1178.5,582.3 1180.0,585.0 1181.7,587.8 1183.5,590.5 1185.4,593.3 1187.4,596.0 1189.4,598.7 1191.3,601.3 1193.2,603.7 1195.0,606.0 1197.2,608.8 1199.4,611.3 1201.4,613.7 1203.4,616.0 1205.4,618.2 1207.5,620.5 1209.6,622.9 1211.7,625.3 1213.8,627.6 1215.8,630.0 1217.9,632.2 1220.0,634.4 1222.4,636.9 1224.8,639.3 1227.1,641.6 1229.7,643.9 1232.5,646.1 1235.1,647.9 1237.9,649.5 1240.8,650.9 1243.8,652.2 1246.9,653.6 1250.0,654.9 1253.2,656.2 1256.7,657.4 1260.2,658.6 1263.6,659.9 1266.9,660.8 1270.0,661.4 1273.4,661.8 1276.6,662.4 1279.6,663.0 1282.4,663.5 1285.0,664.1 1288.4,665.8 1291.3,668.0 1295.0,669.5 1297.7,669.5 1300.6,668.9 1303.9,668.7 1307.8,669.4 1312.5,670.6 1315.1,671.2 1318.1,672.0 1321.3,673.0 1324.8,673.7 1328.4,674.1 1332.0,674.5 1335.5,675.3 1338.9,676.1 1342.1,676.4 1345.0,676.4 1347.5,676.4 1351.4,676.2 1353.9,675.4 1355.8,674.2 1358.4,672.9 1362.5,672.2 1364.7,672.6 1366.9,673.1 1369.2,673.6 1371.6,673.8 1374.1,673.9 1376.9,673.9 1379.9,674.0 1383.1,673.8 1386.8,673.2 1390.7,672.8 1395.1,673.1 1400.0,673.1 1402.3,672.8 1404.6,672.6 1407.1,672.5 1409.7,672.7 1412.4,672.8 1415.3,672.9 1418.1,673.0 1421.1,673.6 1424.2,674.4 1427.3,675.0 1430.4,674.8 1433.6,674.4 1436.9,674.1 1440.2,674.0 1443.5,673.8 1446.8,673.6 1450.1,673.7 1453.4,674.3 1456.8,674.6 1460.1,674.4 1463.3,674.0 1466.6,674.0 1469.8,674.2 1473.0,674.3 1476.1,674.2 1479.1,674.4 1482.1,674.8 1485.0,675.0 1488.2,674.7 1491.3,674.0 1494.4,673.8 1497.4,674.0 1500.4,674.3 1503.4,674.4 1506.4,674.6 1509.3,675.0 1512.2,675.3 1515.1,675.3 1518.0,674.8 1520.9,674.1 1523.8,673.6 1526.6,673.6 1529.5,673.6 1532.5,673.4 1535.4,673.1 1538.3,673.2 1541.3,673.4 1544.3,673.4 1547.4,673.1 1550.5,672.9 1553.6,673.2 1556.8,673.9 1560.0,674.5 1562.9,674.6 1565.9,674.6 1569.0,674.7 1572.2,674.5 1575.5,673.8 1578.9,672.8 1582.3,672.3 1585.8,672.5 1589.3,672.7 1592.8,672.7 1596.4,672.8 1599.9,673.2 1603.4,673.4 1606.9,673.3 1610.4,673.4 1613.8,674.1 1617.2,674.7 1620.5,674.7 1623.7,674.3 1626.8,674.0 1629.7,673.7 1632.6,673.3 1635.3,672.7 1637.9,672.3 1640.3,672.3 1642.5,672.7 1644.5,673.1 1646.4,673.4 1648.0,673.5" stroke-width="10.0"/>
<path d="M174.5,659.2 177.1,659.8 180.8,660.8 185.0,661.1 187.3,661.0 189.4,660.9 191.8,661.1 195.2,661.5 200.0,661.7 202.2,661.8 204.6,662.1 207.2,662.6 210.0,663.2 213.0,663.4 216.1,663.4 219.2,663.5 222.5,664.1 225.8,665.0 229.1,665.7 232.4,666.4 235.7,667.2 238.9,667.9 242.0,668.1 245.0,667.6 248.1,667.2 251.2,667.1 254.3,667.3 257.4,667.3 260.5,667.3 263.6,667.5 266.7,667.9 269.8,668.3 272.9,668.3 276.0,668.2 279.0,668.7 282.0,669.5 285.0,670.3 288.2,670.8 291.3,671.0 294.3,671.2 297.4,671.3 300.4,671.0 303.4,670.3 306.4,669.8 309.4,669.9 312.4,670.3 315.5,670.7 318.6,670.9 321.8,671.1 325.0,671.6 327.9,672.0 330.8,672.1 333.8,672.2 336.9,672.5 339.9,673.3 343.0,674.0 346.1,674.3 349.2,674.3 352.3,674.3 355.4,674.4 358.4,674.4 361.4,674.2 364.4,674.2 367.2,674.7 370.0,675.5 373.3,676.2 376.6,676.4 379.7,676.4 382.7,676.6 385.7,676.8 388.6,676.8 391.6,676.7 394.5,676.8 397.5,677.4 400.6,678.1 403.7,678.4 407.0,678.4 409.9,678.4 412.8,678.7 415.7,679.1 418.6,679.4 421.6,679.6 424.6,680.1 427.7,680.9 430.8,681.4 433.9,681.2 437.0,680.7 440.2,680.3 443.4,680.3 446.7,680.2 450.0,680.1 452.9,680.3 455.9,680.9 459.0,681.6 462.1,681.9 465.3,681.8 468.5,681.7 471.7,682.1 474.9,682.5 478.1,682.6 481.3,682.5 484.5,682.6 487.7,682.6 490.8,682.2 493.9,681.3 497.0,680.5 500.0,680.4 503.1,680.6 506.2,680.9 509.2,681.1 512.1,681.5 515.0,682.2 517.9,682.7 520.8,682.8 523.6,682.5 526.5,682.3 529.4,682.5 532.4,682.9 535.4,683.0 538.5,682.9 541.7,682.7 545.0,682.7 547.8,682.6 550.7,682.1 553.6,681.7 556.6,681.7 559.7,682.2 562.8,683.0 565.9,683.4 569.0,683.6 572.2,683.9 575.3,684.2 578.5,684.1 581.7,683.7 584.8,683.5 587.9,683.9 591.0,684.5 594.1,684.8 597.1,684.7 600.0,684.7 603.3,684.9 606.6,685.0 609.9,684.8 613.1,684.6 616.4,685.0 619.7,685.7 622.9,686.0 626.1,685.7 629.3,685.4 632.4,685.3 635.5,685.2 638.5,685.0 641.5,684.9 644.4,685.2 647.2,686.0 650.0,686.8 653.5,687.3 656.7,687.3 659.7,687.5 662.5,687.8 665.2,688.1 668.0,688.1 670.7,688.0 673.6,688.2 676.7,688.5 679.9,688.7 683.5,688.2 687.5,687.3 690.1,687.2 692.9,687.2 695.8,687.3 698.8,687.3 702.0,687.6 705.2,688.3 708.5,688.8 711.9,688.7 715.3,687.9 718.8,687.4 722.2,687.1 725.6,686.6 729.0,686.0 732.3,685.7 735.5,685.6 738.7,685.4 741.7,684.8 744.7,684.2 747.4,684.1 750.0,684.4 753.9,685.1 757.4,685.7 760.5,686.2 763.4,686.9 766.1,687.5 768.8,687.7 771.4,687.6 774.1,687.4 777.0,687.3 780.1,687.7 783.6,687.9 787.5,687.8 790.1,687.7 792.9,687.8 795.9,687.9 799.0,687.5 802.2,686.8 805.6,686.5 809.0,686.7 812.5,686.9 816.0,686.6 819.5,686.2 823.0,686.0 826.5,685.6 829.9,684.8 833.2,684.2 836.4,684.3 839.5,684.7 842.4,684.9 845.2,684.9 847.7,684.7 850.0,684.6 854.8,684.6 858.6,684.3 861.6,684.2 864.1,684.6 866.4,685.2 868.8,685.8 871.5,686.1 875.0,685.8 877.7,685.4 880.5,685.2 883.5,685.2 886.6,684.9 889.7,684.5 893.0,684.5 896.2,684.8 899.5,684.8 902.8,684.3 906.1,683.3 909.3,682.3 912.5,681.4 915.7,680.4 918.9,679.3 922.2,678.3 925.5,677.7 928.8,677.1 932.0,676.1 935.3,675.0 938.4,674.2 941.5,673.5 944.5,672.9 947.3,672.2 950.0,671.6 953.7,671.1 957.1,670.5 960.3,669.6 963.3,668.3 966.2,667.2 969.0,666.3 972.0,665.4 975.0,664.5 978.2,663.5 981.4,662.8 984.6,662.2 987.8,661.4 991.0,660.3 994.1,659.1 997.1,658.0 1000.0,657.0 1003.1,655.7 1006.2,654.2 1009.1,652.6 1011.9,651.0 1014.6,649.4 1017.3,647.7 1020.0,646.0 1023.1,644.1 1026.1,642.3 1029.1,640.6 1031.9,638.9 1034.8,637.1 1037.5,635.0 1039.8,633.2 1042.0,631.2 1044.2,629.2 1046.4,627.0 1048.5,624.8 1050.5,622.4 1052.5,620.0 1054.4,617.4 1056.3,614.7 1058.2,611.9 1059.9,609.0 1061.7,606.0 1063.4,603.0 1065.0,600.0 1066.4,597.3 1067.7,594.6 1069.0,591.9 1070.3,589.1 1071.5,586.2 1072.7,583.4 1073.9,580.5 1075.0,577.5 1076.1,574.5 1077.1,571.5 1078.0,568.4 1078.9,565.3 1079.8,562.2 1080.7,559.0 1081.6,555.8 1082.5,552.5 1083.3,549.6 1084.2,546.5 1085.0,543.5 1085.9,540.4 1086.7,537.3 1087.6,534.2 1088.4,531.1 1089.2,528.1 1090.0,525.0 1090.8,522.0 1091.5,519.0 1092.2,516.0 1093.0,513.0 1093.7,510.0 1094.3,507.0 1095.0,504.0 1095.7,501.0 1096.3,498.0 1096.9,494.9 1097.5,491.7 1098.1,488.5 1098.7,485.2 1099.2,482.0 1099.8,478.9 1100.3,476.0 1100.8,473.4 1101.3,471.0 1102.2,466.7 1102.9,463.4 1103.8,460.8 1105.0,458.5 1107.4,455.6 1110.4,453.3 1113.7,451.8 1116.4,452.4 1119.4,454.0 1122.3,455.6 1125.0,457.5 1127.2,460.0 1129.2,463.0 1131.1,466.4 1133.0,470.0 1134.3,472.6 1135.6,475.2 1136.9,478.0 1138.3,480.9 1139.6,484.1 1141.0,487.5 1142.1,490.3 1143.2,493.3 1144.3,496.4 1145.5,499.7 1146.6,503.0 1147.8,506.3 1148.9,509.5 1150.0,512.5 1151.1,515.4 1152.1,518.2 1153.1,520.9 1154.1,523.6 1155.2,526.3 1156.2,529.1 1157.3,532.0 1158.5,535.0 1159.6,537.8 1160.8,540.9 1162.0,544.0 1163.2,547.1 1164.5,550.3 1165.8,553.5 1167.0,556.6 1168.3,559.6 1169.5,562.5 1170.8,565.5 1172.1,568.5 1173.3,571.4 1174.5,574.1 1175.8,576.9 1177.1,579.6 1178.5,582.3 1180.0,585.0 1181.7,587.8 1183.5,590.5 1185.4,593.3 1187.4,596.0 1189.4,598.7 1191.3,601.3 1193.2,603.7 1195.0,606.0 1197.2,608.8 1199.4,611.3 1201.4,613.7 1203.4,616.0 1205.4,618.2 1207.5,620.5 1209.6,622.9 1211.7,625.3 1213.8,627.6 1215.8,630.0 1217.9,632.2 1220.0,634.4 1222.4,636.9 1224.8,639.3 1227.1,641.6 1229.7,643.9 1232.5,646.1 1235.1,647.9 1237.9,649.5 1240.8,650.9 1243.8,652.2 1246.9,653.6 1250.0,654.9 1253.2,656.2 1256.7,657.4 1260.2,658.6 1263.6,659.9 1266.9,660.8 1270.0,661.4 1273.4,661.8 1276.6,662.4 1279.6,663.0 1282.4,663.5 1285.0,664.1 1288.4,665.8 1291.3,668.0 1295.0,669.5 1297.7,669.5 1300.6,668.9 1303.9,668.7 1307.8,669.4 1312.5,670.6 1315.1,671.2 1318.1,672.0 1321.3,673.0 1324.8,673.7 1328.4,674.1 1332.0,674.5 1335.5,675.3 1338.9,676.1 1342.1,676.4 1345.0,676.4 1347.5,676.4 1351.4,676.2 1353.9,675.4 1355.8,674.2 1358.4,672.9 1362.5,672.2 1364.7,672.6 1366.9,673.1 1369.2,673.6 1371.6,673.8 1374.1,673.9 1376.9,673.9 1379.9,674.0 1383.1,673.8 1386.8,673.2 1390.7,672.8 1395.1,673.1 1400.0,673.1 1402.3,672.8 1404.6,672.6 1407.1,672.5 1409.7,672.7 1412.4,672.8 1415.3,672.9 1418.1,673.0 1421.1,673.6 1424.2,674.4 1427.3,675.0 1430.4,674.8 1433.6,674.4 1436.9,674.1 1440.2,674.0 1443.5,673.8 1446.8,673.6 1450.1,673.7 1453.4,674.3 1456.8,674.6 1460.1,674.4 1463.3,674.0 1466.6,674.0 1469.8,674.2 1473.0,674.3 1476.1,674.2 1479.1,674.4 1482.1,674.8 1485.0,675.0 1488.2,674.7 1491.3,674.0 1494.4,673.8 1497.4,674.0 1500.4,674.3 1503.4,674.4 1506.4,674.6 1509.3,675.0 1512.2,675.3 1515.1,675.3 1518.0,674.8 1520.9,674.1 1523.8,673.6 1526.6,673.6 1529.5,673.6 1532.5,673.4 1535.4,673.1 1538.3,673.2 1541.3,673.4 1544.3,673.4 1547.4,673.1 1550.5,672.9 1553.6,673.2 1556.8,673.9 1560.0,674.5 1562.9,674.6 1565.9,674.6 1569.0,674.7 1572.2,674.5 1575.5,673.8 1578.9,672.8 1582.3,672.3 1585.8,672.5 1589.3,672.7 1592.8,672.7 1596.4,672.8 1599.9,673.2 1603.4,673.4 1606.9,673.3 1610.4,673.4 1613.8,674.1 1617.2,674.7 1620.5,674.7 1623.7,674.3 1626.8,674.0 1629.7,673.7 1632.6,673.3 1635.3,672.7 1637.9,672.3 1640.3,672.3 1642.5,672.7 1644.5,673.1 1646.4,673.4 1648.0,673.5" stroke-width="10" transform="translate(0,-1.2)"/>
<path d="M174.5,659.2 177.1,659.8 180.8,660.8 185.0,661.1 187.3,661.0 189.4,660.9 191.8,661.1 195.2,661.5 200.0,661.7 202.2,661.8 204.6,662.1 207.2,662.6 210.0,663.2 213.0,663.4 216.1,663.4 219.2,663.5 222.5,664.1 225.8,665.0 229.1,665.7 232.4,666.4 235.7,667.2 238.9,667.9 242.0,668.1 245.0,667.6 248.1,667.2 251.2,667.1 254.3,667.3 257.4,667.3 260.5,667.3 263.6,667.5 266.7,667.9 269.8,668.3 272.9,668.3 276.0,668.2 279.0,668.7 282.0,669.5 285.0,670.3 288.2,670.8 291.3,671.0 294.3,671.2 297.4,671.3 300.4,671.0 303.4,670.3 306.4,669.8 309.4,669.9 312.4,670.3 315.5,670.7 318.6,670.9 321.8,671.1 325.0,671.6 327.9,672.0 330.8,672.1 333.8,672.2 336.9,672.5 339.9,673.3 343.0,674.0 346.1,674.3 349.2,674.3 352.3,674.3 355.4,674.4 358.4,674.4 361.4,674.2 364.4,674.2 367.2,674.7 370.0,675.5 373.3,676.2 376.6,676.4 379.7,676.4 382.7,676.6 385.7,676.8 388.6,676.8 391.6,676.7 394.5,676.8 397.5,677.4 400.6,678.1 403.7,678.4 407.0,678.4 409.9,678.4 412.8,678.7 415.7,679.1 418.6,679.4 421.6,679.6 424.6,680.1 427.7,680.9 430.8,681.4 433.9,681.2 437.0,680.7 440.2,680.3 443.4,680.3 446.7,680.2 450.0,680.1 452.9,680.3 455.9,680.9 459.0,681.6 462.1,681.9 465.3,681.8 468.5,681.7 471.7,682.1 474.9,682.5 478.1,682.6 481.3,682.5 484.5,682.6 487.7,682.6 490.8,682.2 493.9,681.3 497.0,680.5 500.0,680.4 503.1,680.6 506.2,680.9 509.2,681.1 512.1,681.5 515.0,682.2 517.9,682.7 520.8,682.8 523.6,682.5 526.5,682.3 529.4,682.5 532.4,682.9 535.4,683.0 538.5,682.9 541.7,682.7 545.0,682.7 547.8,682.6 550.7,682.1 553.6,681.7 556.6,681.7 559.7,682.2 562.8,683.0 565.9,683.4 569.0,683.6 572.2,683.9 575.3,684.2 578.5,684.1 581.7,683.7 584.8,683.5 587.9,683.9 591.0,684.5 594.1,684.8 597.1,684.7 600.0,684.7 603.3,684.9 606.6,685.0 609.9,684.8 613.1,684.6 616.4,685.0 619.7,685.7 622.9,686.0 626.1,685.7 629.3,685.4 632.4,685.3 635.5,685.2 638.5,685.0 641.5,684.9 644.4,685.2 647.2,686.0 650.0,686.8 653.5,687.3 656.7,687.3 659.7,687.5 662.5,687.8 665.2,688.1 668.0,688.1 670.7,688.0 673.6,688.2 676.7,688.5 679.9,688.7 683.5,688.2 687.5,687.3 690.1,687.2 692.9,687.2 695.8,687.3 698.8,687.3 702.0,687.6 705.2,688.3 708.5,688.8 711.9,688.7 715.3,687.9 718.8,687.4 722.2,687.1 725.6,686.6 729.0,686.0 732.3,685.7 735.5,685.6 738.7,685.4 741.7,684.8 744.7,684.2 747.4,684.1 750.0,684.4 753.9,685.1 757.4,685.7 760.5,686.2 763.4,686.9 766.1,687.5 768.8,687.7 771.4,687.6 774.1,687.4 777.0,687.3 780.1,687.7 783.6,687.9 787.5,687.8 790.1,687.7 792.9,687.8 795.9,687.9 799.0,687.5 802.2,686.8 805.6,686.5 809.0,686.7 812.5,686.9 816.0,686.6 819.5,686.2 823.0,686.0 826.5,685.6 829.9,684.8 833.2,684.2 836.4,684.3 839.5,684.7 842.4,684.9 845.2,684.9 847.7,684.7 850.0,684.6 854.8,684.6 858.6,684.3 861.6,684.2 864.1,684.6 866.4,685.2 868.8,685.8 871.5,686.1 875.0,685.8 877.7,685.4 880.5,685.2 883.5,685.2 886.6,684.9 889.7,684.5 893.0,684.5 896.2,684.8 899.5,684.8 902.8,684.3 906.1,683.3 909.3,682.3 912.5,681.4 915.7,680.4 918.9,679.3 922.2,678.3 925.5,677.7 928.8,677.1 932.0,676.1 935.3,675.0 938.4,674.2 941.5,673.5 944.5,672.9 947.3,672.2 950.0,671.6 953.7,671.1 957.1,670.5 960.3,669.6 963.3,668.3 966.2,667.2 969.0,666.3 972.0,665.4 975.0,664.5 978.2,663.5 981.4,662.8 984.6,662.2 987.8,661.4 991.0,660.3 994.1,659.1 997.1,658.0 1000.0,657.0 1003.1,655.7 1006.2,654.2 1009.1,652.6 1011.9,651.0 1014.6,649.4 1017.3,647.7 1020.0,646.0 1023.1,644.1 1026.1,642.3 1029.1,640.6 1031.9,638.9 1034.8,637.1 1037.5,635.0 1039.8,633.2 1042.0,631.2 1044.2,629.2 1046.4,627.0 1048.5,624.8 1050.5,622.4 1052.5,620.0 1054.4,617.4 1056.3,614.7 1058.2,611.9 1059.9,609.0 1061.7,606.0 1063.4,603.0 1065.0,600.0 1066.4,597.3 1067.7,594.6 1069.0,591.9 1070.3,589.1 1071.5,586.2 1072.7,583.4 1073.9,580.5 1075.0,577.5 1076.1,574.5 1077.1,571.5 1078.0,568.4 1078.9,565.3 1079.8,562.2 1080.7,559.0 1081.6,555.8 1082.5,552.5 1083.3,549.6 1084.2,546.5 1085.0,543.5 1085.9,540.4 1086.7,537.3 1087.6,534.2 1088.4,531.1 1089.2,528.1 1090.0,525.0 1090.8,522.0 1091.5,519.0 1092.2,516.0 1093.0,513.0 1093.7,510.0 1094.3,507.0 1095.0,504.0 1095.7,501.0 1096.3,498.0 1096.9,494.9 1097.5,491.7 1098.1,488.5 1098.7,485.2 1099.2,482.0 1099.8,478.9 1100.3,476.0 1100.8,473.4 1101.3,471.0 1102.2,466.7 1102.9,463.4 1103.8,460.8 1105.0,458.5 1107.4,455.6 1110.4,453.3 1113.7,451.8 1116.4,452.4 1119.4,454.0 1122.3,455.6 1125.0,457.5 1127.2,460.0 1129.2,463.0 1131.1,466.4 1133.0,470.0 1134.3,472.6 1135.6,475.2 1136.9,478.0 1138.3,480.9 1139.6,484.1 1141.0,487.5 1142.1,490.3 1143.2,493.3 1144.3,496.4 1145.5,499.7 1146.6,503.0 1147.8,506.3 1148.9,509.5 1150.0,512.5 1151.1,515.4 1152.1,518.2 1153.1,520.9 1154.1,523.6 1155.2,526.3 1156.2,529.1 1157.3,532.0 1158.5,535.0 1159.6,537.8 1160.8,540.9 1162.0,544.0 1163.2,547.1 1164.5,550.3 1165.8,553.5 1167.0,556.6 1168.3,559.6 1169.5,562.5 1170.8,565.5 1172.1,568.5 1173.3,571.4 1174.5,574.1 1175.8,576.9 1177.1,579.6 1178.5,582.3 1180.0,585.0 1181.7,587.8 1183.5,590.5 1185.4,593.3 1187.4,596.0 1189.4,598.7 1191.3,601.3 1193.2,603.7 1195.0,606.0 1197.2,608.8 1199.4,611.3 1201.4,613.7 1203.4,616.0 1205.4,618.2 1207.5,620.5 1209.6,622.9 1211.7,625.3 1213.8,627.6 1215.8,630.0 1217.9,632.2 1220.0,634.4 1222.4,636.9 1224.8,639.3 1227.1,641.6 1229.7,643.9 1232.5,646.1 1235.1,647.9 1237.9,649.5 1240.8,650.9 1243.8,652.2 1246.9,653.6 1250.0,654.9 1253.2,656.2 1256.7,657.4 1260.2,658.6 1263.6,659.9 1266.9,660.8 1270.0,661.4 1273.4,661.8 1276.6,662.4 1279.6,663.0 1282.4,663.5 1285.0,664.1 1288.4,665.8 1291.3,668.0 1295.0,669.5 1297.7,669.5 1300.6,668.9 1303.9,668.7 1307.8,669.4 1312.5,670.6 1315.1,671.2 1318.1,672.0 1321.3,673.0 1324.8,673.7 1328.4,674.1 1332.0,674.5 1335.5,675.3 1338.9,676.1 1342.1,676.4 1345.0,676.4 1347.5,676.4 1351.4,676.2 1353.9,675.4 1355.8,674.2 1358.4,672.9 1362.5,672.2 1364.7,672.6 1366.9,673.1 1369.2,673.6 1371.6,673.8 1374.1,673.9 1376.9,673.9 1379.9,674.0 1383.1,673.8 1386.8,673.2 1390.7,672.8 1395.1,673.1 1400.0,673.1 1402.3,672.8 1404.6,672.6 1407.1,672.5 1409.7,672.7 1412.4,672.8 1415.3,672.9 1418.1,673.0 1421.1,673.6 1424.2,674.4 1427.3,675.0 1430.4,674.8 1433.6,674.4 1436.9,674.1 1440.2,674.0 1443.5,673.8 1446.8,673.6 1450.1,673.7 1453.4,674.3 1456.8,674.6 1460.1,674.4 1463.3,674.0 1466.6,674.0 1469.8,674.2 1473.0,674.3 1476.1,674.2 1479.1,674.4 1482.1,674.8 1485.0,675.0 1488.2,674.7 1491.3,674.0 1494.4,673.8 1497.4,674.0 1500.4,674.3 1503.4,674.4 1506.4,674.6 1509.3,675.0 1512.2,675.3 1515.1,675.3 1518.0,674.8 1520.9,674.1 1523.8,673.6 1526.6,673.6 1529.5,673.6 1532.5,673.4 1535.4,673.1 1538.3,673.2 1541.3,673.4 1544.3,673.4 1547.4,673.1 1550.5,672.9 1553.6,673.2 1556.8,673.9 1560.0,674.5 1562.9,674.6 1565.9,674.6 1569.0,674.7 1572.2,674.5 1575.5,673.8 1578.9,672.8 1582.3,672.3 1585.8,672.5 1589.3,672.7 1592.8,672.7 1596.4,672.8 1599.9,673.2 1603.4,673.4 1606.9,673.3 1610.4,673.4 1613.8,674.1 1617.2,674.7 1620.5,674.7 1623.7,674.3 1626.8,674.0 1629.7,673.7 1632.6,673.3 1635.3,672.7 1637.9,672.3 1640.3,672.3 1642.5,672.7 1644.5,673.1 1646.4,673.4 1648.0,673.5" stroke-width="10" transform="translate(0,1.2)"/>
<path d="M174.5,894.0 177.2,893.9 181.1,894.0 185.0,893.9 188.1,893.9 191.1,894.1 195.0,893.4 197.5,892.4 200.4,891.3 203.4,890.2 206.6,889.1 209.6,887.9 212.5,886.3 215.2,884.7 217.7,883.0 220.3,881.2 222.7,879.3 225.1,877.3 227.4,875.3 229.7,873.3 232.0,871.2 234.2,869.1 236.3,866.9 238.2,864.7 240.0,862.5 242.2,859.1 244.1,855.7 245.7,852.4 247.4,849.5 249.7,846.3 251.9,843.6 254.0,841.5 257.0,840.0 260.0,840.1 262.9,840.5 266.2,840.5 269.0,841.0 272.1,842.1 275.0,843.6 277.8,845.8 282.4,848.5 284.5,849.4 287.0,850.4 289.8,851.7 292.9,852.8 296.0,853.8 299.1,854.8 302.1,856.1 304.9,857.4 307.8,858.8 310.7,860.2 313.4,861.7 316.1,863.3 318.9,864.7 321.8,866.0 324.9,867.1 327.8,868.2 330.9,869.6 334.1,871.0 337.4,872.3 340.6,873.5 343.8,874.6 346.9,875.7 349.8,876.4 353.4,877.3 356.6,878.3 359.8,879.5 362.9,880.5 366.2,881.2 369.8,881.9 372.7,882.6 375.7,883.4 378.8,884.1 382.0,885.1 385.2,886.5 388.4,887.9 391.6,888.9 394.8,889.4 397.9,889.9 401.1,890.5 404.2,890.8 407.3,890.9 410.4,891.2 413.6,891.7 416.7,892.1 419.8,892.1 422.9,892.2 426.0,892.7 429.1,893.6 432.2,894.6 435.4,895.5 438.5,896.5 441.6,897.6 444.7,898.5 447.8,898.8 450.9,899.1 454.1,899.8 457.2,900.7 460.3,901.4 463.4,901.8 466.6,902.2 469.7,902.6 472.9,902.7 476.1,902.4 479.4,902.2 482.7,902.8 485.9,903.5 489.0,903.8 491.9,903.7 494.7,903.8 498.5,904.3 501.8,905.0 504.8,905.6 508.2,906.3 512.2,907.2 514.8,907.5 517.6,907.1 520.5,906.5 523.6,906.2 526.7,906.1 529.9,905.9 533.1,905.8 536.4,906.3 539.6,907.0 542.5,907.3 545.3,907.2 548.2,907.3 551.1,907.7 554.0,908.5 556.9,909.2 560.0,909.8 563.1,910.5 566.3,911.4 569.6,912.1 572.5,912.1 575.5,912.2 578.5,912.6 581.7,913.6 584.9,914.4 588.1,914.9 591.4,915.2 594.6,915.6 597.8,915.4 600.9,914.8 604.0,914.4 607.0,914.5 610.1,915.0 612.9,915.3 615.6,915.3 618.2,915.3 620.8,915.5 623.4,915.7 626.2,915.7 629.2,915.6 632.4,915.8 636.0,916.7 640.0,917.3 642.4,917.1 645.0,916.7 647.7,916.4 650.6,916.2 653.6,916.0 656.6,915.7 659.8,915.7 663.0,916.2 666.3,916.7 669.6,916.5 672.9,916.0 676.1,915.8 679.4,915.9 682.6,915.9 685.8,915.7 688.8,915.7 691.8,915.7 694.7,915.5 697.4,914.7 700.0,913.9 703.6,913.5 706.9,913.7 709.9,913.9 712.6,914.0 715.2,914.2 717.8,914.6 720.3,914.9 723.0,914.9 725.8,914.6 728.8,914.3 732.1,914.6 735.8,915.2 740.0,915.0 742.4,914.7 744.9,914.4 747.6,914.1 750.4,913.6 753.4,913.0 756.4,912.6 759.5,912.9 762.7,913.7 766.0,914.0 769.3,914.0 772.6,914.1 776.0,914.4 779.4,914.5 782.7,914.4 786.1,914.7 789.4,915.4 792.6,915.5 795.8,915.0 798.9,914.5 801.9,914.4 804.8,914.5 807.5,914.6 810.2,914.7 812.7,915.0 815.0,915.5 819.3,916.3 822.8,916.2 825.7,916.1 828.3,916.4 830.5,917.0 832.7,917.5 834.9,918.0 837.3,918.4 840.1,918.8 843.3,919.4 847.3,919.8 852.0,919.5 854.2,919.5 856.6,920.0 859.0,920.7 861.6,921.4 864.3,921.8 867.1,922.1 870.0,922.4 872.9,922.6 876.0,922.4 879.1,921.9 882.2,921.6 885.4,921.9 888.7,922.2 892.0,922.0 895.3,921.6 898.6,921.5 902.0,921.6 905.3,921.6 908.6,921.9 912.0,922.8 915.3,923.9 918.5,924.4 921.8,924.2 925.0,924.1 928.1,924.2 931.2,924.2 934.2,924.0 937.1,923.9 940.0,924.2 943.2,924.5 946.3,924.3 949.4,923.7 952.4,923.4 955.3,923.7 958.1,924.2 961.0,924.5 963.7,924.8 966.5,925.3 969.3,925.8 972.0,925.9 974.7,925.6 977.5,925.2 980.3,925.0 983.1,925.4 986.0,925.8 988.9,926.0 991.8,926.0 994.9,926.2 998.0,926.5 1001.2,926.4 1004.5,926.1 1007.9,926.2 1011.4,927.0 1015.0,927.5 1017.6,927.4 1020.3,927.1 1023.1,926.8 1025.9,926.6 1028.8,926.1 1031.7,925.6 1034.7,925.4 1037.8,925.8 1040.9,926.4 1044.0,926.5 1047.2,926.3 1050.4,926.3 1053.6,926.7 1056.9,927.0 1060.1,927.2 1063.4,927.6 1066.7,928.2 1070.0,928.3 1073.3,927.5 1076.6,926.6 1079.9,926.2 1083.1,926.1 1086.4,925.9 1089.6,925.8 1092.8,926.1 1096.0,926.5 1099.1,926.3 1102.2,926.0 1105.3,926.0 1108.3,926.6 1111.2,927.3 1114.1,927.5 1116.9,927.6 1119.7,927.8 1122.4,927.8 1125.0,927.7 1128.6,926.9 1132.1,926.5 1135.5,926.9 1138.7,927.5 1141.8,927.7 1144.9,927.7 1147.8,927.8 1150.7,928.0 1153.5,928.0 1156.3,927.8 1159.1,927.8 1161.8,928.2 1164.5,928.9 1167.2,929.2 1169.9,929.0 1172.6,928.7 1175.4,928.5 1178.2,928.6 1181.0,928.6 1184.0,928.7 1187.0,929.0 1190.1,929.8 1193.3,930.6 1196.6,930.9 1200.0,930.6 1202.7,930.5 1205.5,930.7 1208.4,930.8 1211.4,930.7 1214.4,930.6 1217.5,930.7 1220.7,930.7 1223.9,930.1 1227.2,929.2 1230.5,928.8 1233.8,929.1 1237.2,929.7 1240.5,930.0 1243.9,930.5 1247.3,931.1 1250.7,931.3 1254.1,930.9 1257.4,930.8 1260.7,931.2 1264.0,931.6 1267.2,931.5 1270.4,931.0 1273.5,930.8 1276.6,930.5 1279.6,930.0 1282.5,929.6 1285.3,929.6 1288.0,930.2 1290.7,930.8 1293.2,931.1 1295.6,931.1 1297.9,930.9 1300.0,931.0 1305.3,931.2 1309.8,931.1 1313.7,931.5 1317.0,932.3 1319.8,932.6 1322.4,932.6 1324.7,932.4 1326.9,932.4 1329.2,932.7 1331.5,933.1 1334.1,933.4 1337.0,933.7 1340.0,934.2 1342.8,934.8 1345.6,935.4 1348.2,935.4 1350.9,935.0 1353.6,934.6 1356.5,934.5 1359.6,934.7 1362.9,934.7 1366.5,934.5 1370.5,934.6 1375.0,934.6 1377.3,934.2 1379.7,933.8 1382.1,933.7 1384.6,934.1 1387.2,934.7 1389.9,935.0 1392.6,935.0 1395.4,934.9 1398.2,934.7 1401.1,934.4 1404.1,933.8 1407.1,932.8 1410.2,932.2 1413.3,932.2 1416.4,932.1 1419.6,931.6 1422.9,930.9 1426.1,930.5 1429.5,930.3 1432.8,930.1 1436.2,930.0 1439.6,930.6 1443.0,931.4 1446.5,931.4 1450.0,930.9 1452.7,930.5 1455.4,930.5 1458.2,930.4 1461.0,930.1 1463.8,930.0 1466.7,930.1 1469.6,930.5 1472.5,930.5 1475.5,930.0 1478.5,929.5 1481.6,929.6 1484.6,930.0 1487.7,930.3 1490.8,930.3 1493.9,930.5 1497.0,930.8 1500.1,930.6 1503.3,930.0 1506.4,929.4 1509.6,929.5 1512.7,930.0 1515.9,930.4 1519.0,930.5 1522.2,930.7 1525.3,931.1 1528.5,931.2 1531.6,930.9 1534.7,931.0 1537.8,931.5 1540.9,932.1 1543.9,932.1 1547.0,931.6 1550.0,931.2 1553.1,930.8 1556.4,930.3 1559.7,929.7 1563.0,929.7 1566.4,930.4 1569.9,931.0 1573.4,930.9 1576.9,930.9 1580.5,931.3 1584.1,931.7 1587.6,931.9 1591.2,932.3 1594.8,932.9 1598.3,932.7 1601.8,931.8 1605.2,931.1 1608.7,931.0 1612.0,931.1 1615.3,931.0 1618.5,931.2 1621.6,931.7 1624.7,931.8 1627.6,931.6 1630.4,931.2 1633.1,931.3 1635.7,931.7 1638.2,932.1 1640.5,932.3 1642.6,932.3 1644.6,932.3 1646.4,932.3 1648.0,932.4" stroke-width="10.0"/>
<path d="M174.5,894.0 177.2,893.9 181.1,894.0 185.0,893.9 188.1,893.9 191.1,894.1 195.0,893.4 197.5,892.4 200.4,891.3 203.4,890.2 206.6,889.1 209.6,887.9 212.5,886.3 215.2,884.7 217.7,883.0 220.3,881.2 222.7,879.3 225.1,877.3 227.4,875.3 229.7,873.3 232.0,871.2 234.2,869.1 236.3,866.9 238.2,864.7 240.0,862.5 242.2,859.1 244.1,855.7 245.7,852.4 247.4,849.5 249.7,846.3 251.9,843.6 254.0,841.5 257.0,840.0 260.0,840.1 262.9,840.5 266.2,840.5 269.0,841.0 272.1,842.1 275.0,843.6 277.8,845.8 282.4,848.5 284.5,849.4 287.0,850.4 289.8,851.7 292.9,852.8 296.0,853.8 299.1,854.8 302.1,856.1 304.9,857.4 307.8,858.8 310.7,860.2 313.4,861.7 316.1,863.3 318.9,864.7 321.8,866.0 324.9,867.1 327.8,868.2 330.9,869.6 334.1,871.0 337.4,872.3 340.6,873.5 343.8,874.6 346.9,875.7 349.8,876.4 353.4,877.3 356.6,878.3 359.8,879.5 362.9,880.5 366.2,881.2 369.8,881.9 372.7,882.6 375.7,883.4 378.8,884.1 382.0,885.1 385.2,886.5 388.4,887.9 391.6,888.9 394.8,889.4 397.9,889.9 401.1,890.5 404.2,890.8 407.3,890.9 410.4,891.2 413.6,891.7 416.7,892.1 419.8,892.1 422.9,892.2 426.0,892.7 429.1,893.6 432.2,894.6 435.4,895.5 438.5,896.5 441.6,897.6 444.7,898.5 447.8,898.8 450.9,899.1 454.1,899.8 457.2,900.7 460.3,901.4 463.4,901.8 466.6,902.2 469.7,902.6 472.9,902.7 476.1,902.4 479.4,902.2 482.7,902.8 485.9,903.5 489.0,903.8 491.9,903.7 494.7,903.8 498.5,904.3 501.8,905.0 504.8,905.6 508.2,906.3 512.2,907.2 514.8,907.5 517.6,907.1 520.5,906.5 523.6,906.2 526.7,906.1 529.9,905.9 533.1,905.8 536.4,906.3 539.6,907.0 542.5,907.3 545.3,907.2 548.2,907.3 551.1,907.7 554.0,908.5 556.9,909.2 560.0,909.8 563.1,910.5 566.3,911.4 569.6,912.1 572.5,912.1 575.5,912.2 578.5,912.6 581.7,913.6 584.9,914.4 588.1,914.9 591.4,915.2 594.6,915.6 597.8,915.4 600.9,914.8 604.0,914.4 607.0,914.5 610.1,915.0 612.9,915.3 615.6,915.3 618.2,915.3 620.8,915.5 623.4,915.7 626.2,915.7 629.2,915.6 632.4,915.8 636.0,916.7 640.0,917.3 642.4,917.1 645.0,916.7 647.7,916.4 650.6,916.2 653.6,916.0 656.6,915.7 659.8,915.7 663.0,916.2 666.3,916.7 669.6,916.5 672.9,916.0 676.1,915.8 679.4,915.9 682.6,915.9 685.8,915.7 688.8,915.7 691.8,915.7 694.7,915.5 697.4,914.7 700.0,913.9 703.6,913.5 706.9,913.7 709.9,913.9 712.6,914.0 715.2,914.2 717.8,914.6 720.3,914.9 723.0,914.9 725.8,914.6 728.8,914.3 732.1,914.6 735.8,915.2 740.0,915.0 742.4,914.7 744.9,914.4 747.6,914.1 750.4,913.6 753.4,913.0 756.4,912.6 759.5,912.9 762.7,913.7 766.0,914.0 769.3,914.0 772.6,914.1 776.0,914.4 779.4,914.5 782.7,914.4 786.1,914.7 789.4,915.4 792.6,915.5 795.8,915.0 798.9,914.5 801.9,914.4 804.8,914.5 807.5,914.6 810.2,914.7 812.7,915.0 815.0,915.5 819.3,916.3 822.8,916.2 825.7,916.1 828.3,916.4 830.5,917.0 832.7,917.5 834.9,918.0 837.3,918.4 840.1,918.8 843.3,919.4 847.3,919.8 852.0,919.5 854.2,919.5 856.6,920.0 859.0,920.7 861.6,921.4 864.3,921.8 867.1,922.1 870.0,922.4 872.9,922.6 876.0,922.4 879.1,921.9 882.2,921.6 885.4,921.9 888.7,922.2 892.0,922.0 895.3,921.6 898.6,921.5 902.0,921.6 905.3,921.6 908.6,921.9 912.0,922.8 915.3,923.9 918.5,924.4 921.8,924.2 925.0,924.1 928.1,924.2 931.2,924.2 934.2,924.0 937.1,923.9 940.0,924.2 943.2,924.5 946.3,924.3 949.4,923.7 952.4,923.4 955.3,923.7 958.1,924.2 961.0,924.5 963.7,924.8 966.5,925.3 969.3,925.8 972.0,925.9 974.7,925.6 977.5,925.2 980.3,925.0 983.1,925.4 986.0,925.8 988.9,926.0 991.8,926.0 994.9,926.2 998.0,926.5 1001.2,926.4 1004.5,926.1 1007.9,926.2 1011.4,927.0 1015.0,927.5 1017.6,927.4 1020.3,927.1 1023.1,926.8 1025.9,926.6 1028.8,926.1 1031.7,925.6 1034.7,925.4 1037.8,925.8 1040.9,926.4 1044.0,926.5 1047.2,926.3 1050.4,926.3 1053.6,926.7 1056.9,927.0 1060.1,927.2 1063.4,927.6 1066.7,928.2 1070.0,928.3 1073.3,927.5 1076.6,926.6 1079.9,926.2 1083.1,926.1 1086.4,925.9 1089.6,925.8 1092.8,926.1 1096.0,926.5 1099.1,926.3 1102.2,926.0 1105.3,926.0 1108.3,926.6 1111.2,927.3 1114.1,927.5 1116.9,927.6 1119.7,927.8 1122.4,927.8 1125.0,927.7 1128.6,926.9 1132.1,926.5 1135.5,926.9 1138.7,927.5 1141.8,927.7 1144.9,927.7 1147.8,927.8 1150.7,928.0 1153.5,928.0 1156.3,927.8 1159.1,927.8 1161.8,928.2 1164.5,928.9 1167.2,929.2 1169.9,929.0 1172.6,928.7 1175.4,928.5 1178.2,928.6 1181.0,928.6 1184.0,928.7 1187.0,929.0 1190.1,929.8 1193.3,930.6 1196.6,930.9 1200.0,930.6 1202.7,930.5 1205.5,930.7 1208.4,930.8 1211.4,930.7 1214.4,930.6 1217.5,930.7 1220.7,930.7 1223.9,930.1 1227.2,929.2 1230.5,928.8 1233.8,929.1 1237.2,929.7 1240.5,930.0 1243.9,930.5 1247.3,931.1 1250.7,931.3 1254.1,930.9 1257.4,930.8 1260.7,931.2 1264.0,931.6 1267.2,931.5 1270.4,931.0 1273.5,930.8 1276.6,930.5 1279.6,930.0 1282.5,929.6 1285.3,929.6 1288.0,930.2 1290.7,930.8 1293.2,931.1 1295.6,931.1 1297.9,930.9 1300.0,931.0 1305.3,931.2 1309.8,931.1 1313.7,931.5 1317.0,932.3 1319.8,932.6 1322.4,932.6 1324.7,932.4 1326.9,932.4 1329.2,932.7 1331.5,933.1 1334.1,933.4 1337.0,933.7 1340.0,934.2 1342.8,934.8 1345.6,935.4 1348.2,935.4 1350.9,935.0 1353.6,934.6 1356.5,934.5 1359.6,934.7 1362.9,934.7 1366.5,934.5 1370.5,934.6 1375.0,934.6 1377.3,934.2 1379.7,933.8 1382.1,933.7 1384.6,934.1 1387.2,934.7 1389.9,935.0 1392.6,935.0 1395.4,934.9 1398.2,934.7 1401.1,934.4 1404.1,933.8 1407.1,932.8 1410.2,932.2 1413.3,932.2 1416.4,932.1 1419.6,931.6 1422.9,930.9 1426.1,930.5 1429.5,930.3 1432.8,930.1 1436.2,930.0 1439.6,930.6 1443.0,931.4 1446.5,931.4 1450.0,930.9 1452.7,930.5 1455.4,930.5 1458.2,930.4 1461.0,930.1 1463.8,930.0 1466.7,930.1 1469.6,930.5 1472.5,930.5 1475.5,930.0 1478.5,929.5 1481.6,929.6 1484.6,930.0 1487.7,930.3 1490.8,930.3 1493.9,930.5 1497.0,930.8 1500.1,930.6 1503.3,930.0 1506.4,929.4 1509.6,929.5 1512.7,930.0 1515.9,930.4 1519.0,930.5 1522.2,930.7 1525.3,931.1 1528.5,931.2 1531.6,930.9 1534.7,931.0 1537.8,931.5 1540.9,932.1 1543.9,932.1 1547.0,931.6 1550.0,931.2 1553.1,930.8 1556.4,930.3 1559.7,929.7 1563.0,929.7 1566.4,930.4 1569.9,931.0 1573.4,930.9 1576.9,930.9 1580.5,931.3 1584.1,931.7 1587.6,931.9 1591.2,932.3 1594.8,932.9 1598.3,932.7 1601.8,931.8 1605.2,931.1 1608.7,931.0 1612.0,931.1 1615.3,931.0 1618.5,931.2 1621.6,931.7 1624.7,931.8 1627.6,931.6 1630.4,931.2 1633.1,931.3 1635.7,931.7 1638.2,932.1 1640.5,932.3 1642.6,932.3 1644.6,932.3 1646.4,932.3 1648.0,932.4" stroke-width="10" transform="translate(0,-1.2)"/>
<path d="M174.5,894.0 177.2,893.9 181.1,894.0 185.0,893.9 188.1,893.9 191.1,894.1 195.0,893.4 197.5,892.4 200.4,891.3 203.4,890.2 206.6,889.1 209.6,887.9 212.5,886.3 215.2,884.7 217.7,883.0 220.3,881.2 222.7,879.3 225.1,877.3 227.4,875.3 229.7,873.3 232.0,871.2 234.2,869.1 236.3,866.9 238.2,864.7 240.0,862.5 242.2,859.1 244.1,855.7 245.7,852.4 247.4,849.5 249.7,846.3 251.9,843.6 254.0,841.5 257.0,840.0 260.0,840.1 262.9,840.5 266.2,840.5 269.0,841.0 272.1,842.1 275.0,843.6 277.8,845.8 282.4,848.5 284.5,849.4 287.0,850.4 289.8,851.7 292.9,852.8 296.0,853.8 299.1,854.8 302.1,856.1 304.9,857.4 307.8,858.8 310.7,860.2 313.4,861.7 316.1,863.3 318.9,864.7 321.8,866.0 324.9,867.1 327.8,868.2 330.9,869.6 334.1,871.0 337.4,872.3 340.6,873.5 343.8,874.6 346.9,875.7 349.8,876.4 353.4,877.3 356.6,878.3 359.8,879.5 362.9,880.5 366.2,881.2 369.8,881.9 372.7,882.6 375.7,883.4 378.8,884.1 382.0,885.1 385.2,886.5 388.4,887.9 391.6,888.9 394.8,889.4 397.9,889.9 401.1,890.5 404.2,890.8 407.3,890.9 410.4,891.2 413.6,891.7 416.7,892.1 419.8,892.1 422.9,892.2 426.0,892.7 429.1,893.6 432.2,894.6 435.4,895.5 438.5,896.5 441.6,897.6 444.7,898.5 447.8,898.8 450.9,899.1 454.1,899.8 457.2,900.7 460.3,901.4 463.4,901.8 466.6,902.2 469.7,902.6 472.9,902.7 476.1,902.4 479.4,902.2 482.7,902.8 485.9,903.5 489.0,903.8 491.9,903.7 494.7,903.8 498.5,904.3 501.8,905.0 504.8,905.6 508.2,906.3 512.2,907.2 514.8,907.5 517.6,907.1 520.5,906.5 523.6,906.2 526.7,906.1 529.9,905.9 533.1,905.8 536.4,906.3 539.6,907.0 542.5,907.3 545.3,907.2 548.2,907.3 551.1,907.7 554.0,908.5 556.9,909.2 560.0,909.8 563.1,910.5 566.3,911.4 569.6,912.1 572.5,912.1 575.5,912.2 578.5,912.6 581.7,913.6 584.9,914.4 588.1,914.9 591.4,915.2 594.6,915.6 597.8,915.4 600.9,914.8 604.0,914.4 607.0,914.5 610.1,915.0 612.9,915.3 615.6,915.3 618.2,915.3 620.8,915.5 623.4,915.7 626.2,915.7 629.2,915.6 632.4,915.8 636.0,916.7 640.0,917.3 642.4,917.1 645.0,916.7 647.7,916.4 650.6,916.2 653.6,916.0 656.6,915.7 659.8,915.7 663.0,916.2 666.3,916.7 669.6,916.5 672.9,916.0 676.1,915.8 679.4,915.9 682.6,915.9 685.8,915.7 688.8,915.7 691.8,915.7 694.7,915.5 697.4,914.7 700.0,913.9 703.6,913.5 706.9,913.7 709.9,913.9 712.6,914.0 715.2,914.2 717.8,914.6 720.3,914.9 723.0,914.9 725.8,914.6 728.8,914.3 732.1,914.6 735.8,915.2 740.0,915.0 742.4,914.7 744.9,914.4 747.6,914.1 750.4,913.6 753.4,913.0 756.4,912.6 759.5,912.9 762.7,913.7 766.0,914.0 769.3,914.0 772.6,914.1 776.0,914.4 779.4,914.5 782.7,914.4 786.1,914.7 789.4,915.4 792.6,915.5 795.8,915.0 798.9,914.5 801.9,914.4 804.8,914.5 807.5,914.6 810.2,914.7 812.7,915.0 815.0,915.5 819.3,916.3 822.8,916.2 825.7,916.1 828.3,916.4 830.5,917.0 832.7,917.5 834.9,918.0 837.3,918.4 840.1,918.8 843.3,919.4 847.3,919.8 852.0,919.5 854.2,919.5 856.6,920.0 859.0,920.7 861.6,921.4 864.3,921.8 867.1,922.1 870.0,922.4 872.9,922.6 876.0,922.4 879.1,921.9 882.2,921.6 885.4,921.9 888.7,922.2 892.0,922.0 895.3,921.6 898.6,921.5 902.0,921.6 905.3,921.6 908.6,921.9 912.0,922.8 915.3,923.9 918.5,924.4 921.8,924.2 925.0,924.1 928.1,924.2 931.2,924.2 934.2,924.0 937.1,923.9 940.0,924.2 943.2,924.5 946.3,924.3 949.4,923.7 952.4,923.4 955.3,923.7 958.1,924.2 961.0,924.5 963.7,924.8 966.5,925.3 969.3,925.8 972.0,925.9 974.7,925.6 977.5,925.2 980.3,925.0 983.1,925.4 986.0,925.8 988.9,926.0 991.8,926.0 994.9,926.2 998.0,926.5 1001.2,926.4 1004.5,926.1 1007.9,926.2 1011.4,927.0 1015.0,927.5 1017.6,927.4 1020.3,927.1 1023.1,926.8 1025.9,926.6 1028.8,926.1 1031.7,925.6 1034.7,925.4 1037.8,925.8 1040.9,926.4 1044.0,926.5 1047.2,926.3 1050.4,926.3 1053.6,926.7 1056.9,927.0 1060.1,927.2 1063.4,927.6 1066.7,928.2 1070.0,928.3 1073.3,927.5 1076.6,926.6 1079.9,926.2 1083.1,926.1 1086.4,925.9 1089.6,925.8 1092.8,926.1 1096.0,926.5 1099.1,926.3 1102.2,926.0 1105.3,926.0 1108.3,926.6 1111.2,927.3 1114.1,927.5 1116.9,927.6 1119.7,927.8 1122.4,927.8 1125.0,927.7 1128.6,926.9 1132.1,926.5 1135.5,926.9 1138.7,927.5 1141.8,927.7 1144.9,927.7 1147.8,927.8 1150.7,928.0 1153.5,928.0 1156.3,927.8 1159.1,927.8 1161.8,928.2 1164.5,928.9 1167.2,929.2 1169.9,929.0 1172.6,928.7 1175.4,928.5 1178.2,928.6 1181.0,928.6 1184.0,928.7 1187.0,929.0 1190.1,929.8 1193.3,930.6 1196.6,930.9 1200.0,930.6 1202.7,930.5 1205.5,930.7 1208.4,930.8 1211.4,930.7 1214.4,930.6 1217.5,930.7 1220.7,930.7 1223.9,930.1 1227.2,929.2 1230.5,928.8 1233.8,929.1 1237.2,929.7 1240.5,930.0 1243.9,930.5 1247.3,931.1 1250.7,931.3 1254.1,930.9 1257.4,930.8 1260.7,931.2 1264.0,931.6 1267.2,931.5 1270.4,931.0 1273.5,930.8 1276.6,930.5 1279.6,930.0 1282.5,929.6 1285.3,929.6 1288.0,930.2 1290.7,930.8 1293.2,931.1 1295.6,931.1 1297.9,930.9 1300.0,931.0 1305.3,931.2 1309.8,931.1 1313.7,931.5 1317.0,932.3 1319.8,932.6 1322.4,932.6 1324.7,932.4 1326.9,932.4 1329.2,932.7 1331.5,933.1 1334.1,933.4 1337.0,933.7 1340.0,934.2 1342.8,934.8 1345.6,935.4 1348.2,935.4 1350.9,935.0 1353.6,934.6 1356.5,934.5 1359.6,934.7 1362.9,934.7 1366.5,934.5 1370.5,934.6 1375.0,934.6 1377.3,934.2 1379.7,933.8 1382.1,933.7 1384.6,934.1 1387.2,934.7 1389.9,935.0 1392.6,935.0 1395.4,934.9 1398.2,934.7 1401.1,934.4 1404.1,933.8 1407.1,932.8 1410.2,932.2 1413.3,932.2 1416.4,932.1 1419.6,931.6 1422.9,930.9 1426.1,930.5 1429.5,930.3 1432.8,930.1 1436.2,930.0 1439.6,930.6 1443.0,931.4 1446.5,931.4 1450.0,930.9 1452.7,930.5 1455.4,930.5 1458.2,930.4 1461.0,930.1 1463.8,930.0 1466.7,930.1 1469.6,930.5 1472.5,930.5 1475.5,930.0 1478.5,929.5 1481.6,929.6 1484.6,930.0 1487.7,930.3 1490.8,930.3 1493.9,930.5 1497.0,930.8 1500.1,930.6 1503.3,930.0 1506.4,929.4 1509.6,929.5 1512.7,930.0 1515.9,930.4 1519.0,930.5 1522.2,930.7 1525.3,931.1 1528.5,931.2 1531.6,930.9 1534.7,931.0 1537.8,931.5 1540.9,932.1 1543.9,932.1 1547.0,931.6 1550.0,931.2 1553.1,930.8 1556.4,930.3 1559.7,929.7 1563.0,929.7 1566.4,930.4 1569.9,931.0 1573.4,930.9 1576.9,930.9 1580.5,931.3 1584.1,931.7 1587.6,931.9 1591.2,932.3 1594.8,932.9 1598.3,932.7 1601.8,931.8 1605.2,931.1 1608.7,931.0 1612.0,931.1 1615.3,931.0 1618.5,931.2 1621.6,931.7 1624.7,931.8 1627.6,931.6 1630.4,931.2 1633.1,931.3 1635.7,931.7 1638.2,932.1 1640.5,932.3 1642.6,932.3 1644.6,932.3 1646.4,932.3 1648.0,932.4" stroke-width="10" transform="translate(0,1.2)"/>
</g>
<g stroke="#000" fill="none">
<line x1="175" y1="50.5" x2="1642.2" y2="50.5" stroke="#222236" stroke-width="5.8"/>
<path d="M175,47.6 V989.3 H1642.2 V47.6" stroke-width="7.4" stroke-linejoin="miter"/>
<line x1="338.0" y1="989.3" x2="338.0" y2="970.0999999999999" stroke-width="6.8"/>
<line x1="501.0" y1="989.3" x2="501.0" y2="970.0999999999999" stroke-width="6.8"/>
<line x1="664.1" y1="989.3" x2="664.1" y2="970.0999999999999" stroke-width="6.8"/>
<line x1="827.1" y1="989.3" x2="827.1" y2="970.0999999999999" stroke-width="6.8"/>
<line x1="990.1" y1="989.3" x2="990.1" y2="970.0999999999999" stroke-width="6.8"/>
<line x1="1153.1" y1="989.3" x2="1153.1" y2="970.0999999999999" stroke-width="6.8"/>
<line x1="1316.2" y1="989.3" x2="1316.2" y2="970.0999999999999" stroke-width="6.8"/>
<line x1="1479.2" y1="989.3" x2="1479.2" y2="970.0999999999999" stroke-width="6.8"/>
<line x1="1642.2" y1="169.0" x2="1623.2" y2="169.0" stroke-width="6.8"/>
<line x1="1642.2" y1="286.2" x2="1623.2" y2="286.2" stroke-width="6.8"/>
<line x1="1642.2" y1="404.2" x2="1623.2" y2="404.2" stroke-width="6.8"/>
<line x1="1642.2" y1="520.0" x2="1623.2" y2="520.0" stroke-width="6.8"/>
<line x1="1642.2" y1="637.5" x2="1623.2" y2="637.5" stroke-width="6.8"/>
<line x1="1642.2" y1="755.5" x2="1623.2" y2="755.5" stroke-width="6.8"/>
<line x1="1642.2" y1="873.2" x2="1623.2" y2="873.2" stroke-width="6.8"/>
<line x1="175" y1="239.7" x2="202" y2="239.7" stroke-width="6.8"/>
<line x1="175" y1="426" x2="202" y2="426" stroke-width="6.8"/>
<line x1="175" y1="614.8" x2="202" y2="614.8" stroke-width="6.8"/>
<line x1="175" y1="801.7" x2="202" y2="801.7" stroke-width="6.8"/>
<line x1="175" y1="50.5" x2="202" y2="50.5" stroke-width="5.8"/>
<line x1="1642.2" y1="50.5" x2="1623.2" y2="50.5" stroke-width="5.8"/>
<line x1="171.3" y1="990.0" x2="196" y2="990.0" stroke-width="9.9"/>
<path d="M135.45,54.75 H164.95 M150.2,54.75 V239.75 M135.45,239.75 H164.95" stroke-width="7.5"/>
<line x1="1244" y1="235.3" x2="1419.5" y2="235.3" stroke-width="6.4"/>
<path d="M1439.5,235.3 L1405.0,218.3 V252.3 Z" fill="#000" stroke="none"/>
</g>
<text transform="translate(175.00,1082.30) scale(1,1.005)" font-size="61.3" text-anchor="middle">0</text>
<text transform="translate(338.02,1082.30) scale(1,1.005)" font-size="61.3" text-anchor="middle">10</text>
<text transform="translate(501.04,1082.30) scale(1,1.005)" font-size="61.3" text-anchor="middle">20</text>
<text transform="translate(664.07,1082.30) scale(1,1.005)" font-size="61.3" text-anchor="middle">30</text>
<text transform="translate(827.09,1082.30) scale(1,1.005)" font-size="61.3" text-anchor="middle">40</text>
<text transform="translate(990.11,1082.30) scale(1,1.005)" font-size="61.3" text-anchor="middle">50</text>
<text transform="translate(1153.13,1082.30) scale(1,1.005)" font-size="61.3" text-anchor="middle">60</text>
<text transform="translate(1316.16,1082.30) scale(1,1.005)" font-size="61.3" text-anchor="middle">70</text>
<text transform="translate(1479.18,1082.30) scale(1,1.005)" font-size="61.3" text-anchor="middle">80</text>
<text transform="translate(1642.20,1082.30) scale(1,1.005)" font-size="61.3" text-anchor="middle">90</text>
<text transform="translate(1697.00,1007.90) scale(1,1.005)" font-size="61.3">0</text>
<text transform="translate(1697.00,890.55) scale(1,1.005)" font-size="61.3">100</text>
<text transform="translate(1697.00,773.20) scale(1,1.005)" font-size="61.3">200</text>
<text transform="translate(1697.00,655.85) scale(1,1.005)" font-size="61.3">300</text>
<text transform="translate(1697.00,538.50) scale(1,1.005)" font-size="61.3">400</text>
<text transform="translate(1697.00,421.15) scale(1,1.005)" font-size="61.3">500</text>
<text transform="translate(1697.00,303.80) scale(1,1.005)" font-size="61.3">600</text>
<text transform="translate(1697.00,186.45) scale(1,1.005)" font-size="61.3">700</text>
<text transform="translate(1697.00,69.10) scale(1,1.005)" font-size="61.3">800</text>
<text transform="translate(22.70,118.50) scale(1,1.005)" font-size="53">0.02</text>
<text transform="translate(238.80,395.50) scale(1,1.03)" font-size="61.5">Co/Ce/Ba</text>
<text transform="translate(238.00,621.90) scale(1,1.03)" font-size="61.2">Co/Ba</text>
<text transform="translate(233.70,809.30) scale(1,1.03)" font-size="62.1">Co/Ce</text>
<text class="b" transform="translate(878.20,1175.60) scale(1,1.035)" font-size="71.0" text-anchor="middle">Time (min)</text>
<text class="b" transform="translate(88.50,519.00) rotate(-90) scale(1,1.045)" font-size="70.8" text-anchor="middle">TCD intensity (a.u)</text>
<text class="b" transform="translate(1897.80,543.70) rotate(-90) scale(1,1.045)" font-size="71.3" text-anchor="middle">Temperature (°C)</text>
</g>
</svg>
</body></html>
